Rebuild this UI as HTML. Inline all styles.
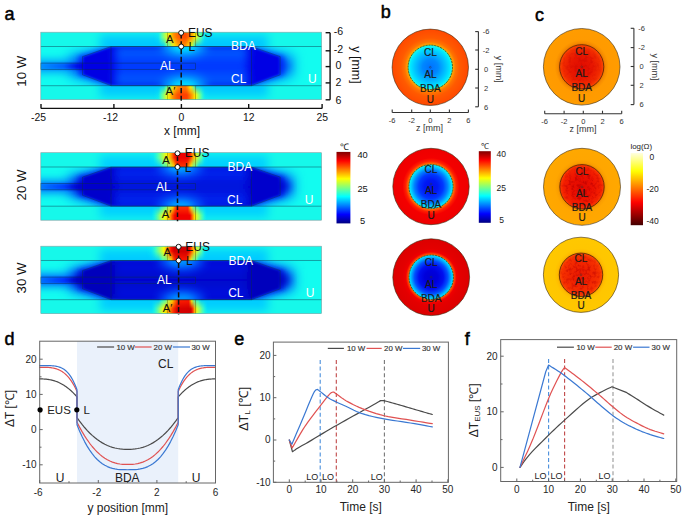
<!DOCTYPE html>
<html><head><meta charset="utf-8"><style>
html,body{margin:0;padding:0;background:#fff;width:685px;height:516px;overflow:hidden}
svg{display:block;font-family:"Liberation Sans",sans-serif}
</style></head><body>
<svg width="685" height="516" viewBox="0 0 685 516"><defs><filter id="bl1" x="-20%" y="-50%" width="140%" height="200%"><feGaussianBlur stdDeviation="1.2"/></filter><filter id="bl3" x="-30%" y="-80%" width="160%" height="260%"><feGaussianBlur stdDeviation="3"/></filter><filter id="bl5" x="-30%" y="-80%" width="160%" height="260%"><feGaussianBlur stdDeviation="5"/></filter><filter id="bl4" x="-30%" y="-80%" width="160%" height="260%"><feGaussianBlur stdDeviation="4"/></filter><filter id="bl9" x="-30%" y="-80%" width="160%" height="260%"><feGaussianBlur stdDeviation="9"/></filter><filter id="bl6" x="-30%" y="-80%" width="160%" height="260%"><feGaussianBlur stdDeviation="6"/></filter><filter id="bl25" x="-30%" y="-80%" width="160%" height="260%"><feGaussianBlur stdDeviation="2.5"/></filter><filter id="bl8" x="-30%" y="-80%" width="160%" height="260%"><feGaussianBlur stdDeviation="8"/></filter><linearGradient id="bmg" gradientUnits="userSpaceOnUse" x1="130" y1="0" x2="230" y2="0"><stop offset="0" stop-color="#000"/><stop offset="0.12" stop-color="#fff"/><stop offset="0.88" stop-color="#fff"/><stop offset="1" stop-color="#000"/></linearGradient><linearGradient id="vgT" x1="0" y1="0" x2="0" y2="1"><stop offset="0" stop-color="#fff"/><stop offset="0.35" stop-color="#fff"/><stop offset="1" stop-color="#000"/></linearGradient><linearGradient id="vgB" x1="0" y1="1" x2="0" y2="0"><stop offset="0" stop-color="#fff"/><stop offset="0.35" stop-color="#fff"/><stop offset="1" stop-color="#000"/></linearGradient><mask id="vmT" maskContentUnits="objectBoundingBox"><rect x="0" y="0" width="1" height="1" fill="url(#vgT)"/></mask><mask id="vmB" maskContentUnits="objectBoundingBox"><rect x="0" y="0" width="1" height="1" fill="url(#vgB)"/></mask><mask id="bm" maskUnits="userSpaceOnUse" x="0" y="-400" width="685" height="1000"><rect x="0" y="-400" width="685" height="1000" fill="url(#bmg)"/></mask><linearGradient id="jetg" x1="0" y1="0" x2="0" y2="1"><stop offset="0.000" stop-color="#800000"/><stop offset="0.025" stop-color="#990000"/><stop offset="0.050" stop-color="#b30000"/><stop offset="0.075" stop-color="#cc0000"/><stop offset="0.100" stop-color="#e50000"/><stop offset="0.125" stop-color="#ff0000"/><stop offset="0.150" stop-color="#ff1a00"/><stop offset="0.175" stop-color="#ff3300"/><stop offset="0.200" stop-color="#ff4c00"/><stop offset="0.225" stop-color="#ff6600"/><stop offset="0.250" stop-color="#ff8000"/><stop offset="0.275" stop-color="#ff9900"/><stop offset="0.300" stop-color="#ffb300"/><stop offset="0.325" stop-color="#ffcc00"/><stop offset="0.350" stop-color="#ffe500"/><stop offset="0.375" stop-color="#ffff00"/><stop offset="0.400" stop-color="#e5ff1a"/><stop offset="0.425" stop-color="#ccff33"/><stop offset="0.450" stop-color="#b3ff4c"/><stop offset="0.475" stop-color="#99ff66"/><stop offset="0.500" stop-color="#80ff80"/><stop offset="0.525" stop-color="#66ff99"/><stop offset="0.550" stop-color="#4cffb3"/><stop offset="0.575" stop-color="#33ffcc"/><stop offset="0.600" stop-color="#1affe5"/><stop offset="0.625" stop-color="#00ffff"/><stop offset="0.650" stop-color="#00e5ff"/><stop offset="0.675" stop-color="#00ccff"/><stop offset="0.700" stop-color="#00b3ff"/><stop offset="0.725" stop-color="#0099ff"/><stop offset="0.750" stop-color="#0080ff"/><stop offset="0.775" stop-color="#0066ff"/><stop offset="0.800" stop-color="#004cff"/><stop offset="0.825" stop-color="#0033ff"/><stop offset="0.850" stop-color="#001aff"/><stop offset="0.875" stop-color="#0000ff"/><stop offset="0.900" stop-color="#0000e5"/><stop offset="0.925" stop-color="#0000cc"/><stop offset="0.950" stop-color="#0000b3"/><stop offset="0.975" stop-color="#000099"/><stop offset="1.000" stop-color="#000080"/></linearGradient><linearGradient id="hotg" x1="0" y1="0" x2="0" y2="1"><stop offset="0.000" stop-color="#ffffe0"/><stop offset="0.025" stop-color="#ffffca"/><stop offset="0.050" stop-color="#ffffb4"/><stop offset="0.075" stop-color="#ffff9e"/><stop offset="0.100" stop-color="#ffff88"/><stop offset="0.125" stop-color="#ffff71"/><stop offset="0.150" stop-color="#ffff5b"/><stop offset="0.175" stop-color="#ffff45"/><stop offset="0.200" stop-color="#ffff2f"/><stop offset="0.225" stop-color="#ffff19"/><stop offset="0.250" stop-color="#ffff03"/><stop offset="0.275" stop-color="#fff200"/><stop offset="0.300" stop-color="#ffe300"/><stop offset="0.325" stop-color="#ffd400"/><stop offset="0.350" stop-color="#ffc600"/><stop offset="0.375" stop-color="#ffb700"/><stop offset="0.400" stop-color="#ffa800"/><stop offset="0.425" stop-color="#ff9900"/><stop offset="0.450" stop-color="#ff8a00"/><stop offset="0.475" stop-color="#ff7c00"/><stop offset="0.500" stop-color="#ff6d00"/><stop offset="0.525" stop-color="#ff5e00"/><stop offset="0.550" stop-color="#ff4f00"/><stop offset="0.575" stop-color="#ff4000"/><stop offset="0.600" stop-color="#ff3200"/><stop offset="0.625" stop-color="#ff2300"/><stop offset="0.650" stop-color="#ff1400"/><stop offset="0.675" stop-color="#ff0500"/><stop offset="0.700" stop-color="#f50000"/><stop offset="0.725" stop-color="#e70000"/><stop offset="0.750" stop-color="#d80000"/><stop offset="0.775" stop-color="#c90000"/><stop offset="0.800" stop-color="#ba0000"/><stop offset="0.825" stop-color="#ac0000"/><stop offset="0.850" stop-color="#9d0000"/><stop offset="0.875" stop-color="#8e0000"/><stop offset="0.900" stop-color="#7f0000"/><stop offset="0.925" stop-color="#700000"/><stop offset="0.950" stop-color="#620000"/><stop offset="0.975" stop-color="#530000"/><stop offset="1.000" stop-color="#440000"/></linearGradient><clipPath id="clipA0"><rect x="40.8" y="0" width="280.8" height="67.5"/></clipPath><clipPath id="clipM0"><rect x="40.8" y="14.3" width="280.8" height="39.2"/></clipPath><clipPath id="clipH0"><polygon points="82.5,24.4 111.0,14.3 251.5,14.3 280.2,24.4 280.2,42.6 251.5,53.5 111.0,53.5 82.5,42.6"/></clipPath><linearGradient id="bg0_0" gradientUnits="objectBoundingBox" x1="0" y1="0" x2="1" y2="0"><stop offset="0.3996" stop-color="#00faff" stop-opacity="0.00"/><stop offset="0.4174" stop-color="#1affe5" stop-opacity="0.21"/><stop offset="0.4281" stop-color="#4dffb2" stop-opacity="0.93"/><stop offset="0.4387" stop-color="#94ff6b" stop-opacity="1.00"/><stop offset="0.4509" stop-color="#e5ff1a" stop-opacity="1.00"/><stop offset="0.4601" stop-color="#ffdb00" stop-opacity="1.00"/><stop offset="0.4708" stop-color="#ff9e00" stop-opacity="1.00"/><stop offset="0.4850" stop-color="#ff6b00" stop-opacity="1.00"/><stop offset="0.4993" stop-color="#ff4c00" stop-opacity="1.00"/><stop offset="0.5171" stop-color="#ff4c00" stop-opacity="1.00"/><stop offset="0.5313" stop-color="#ff8000" stop-opacity="1.00"/><stop offset="0.5420" stop-color="#ffbd00" stop-opacity="1.00"/><stop offset="0.5509" stop-color="#fffa00" stop-opacity="1.00"/><stop offset="0.5598" stop-color="#a8ff57" stop-opacity="1.00"/><stop offset="0.5705" stop-color="#57ffa8" stop-opacity="1.00"/><stop offset="0.5848" stop-color="#1affe5" stop-opacity="0.21"/><stop offset="0.6026" stop-color="#00faff" stop-opacity="0.00"/></linearGradient><linearGradient id="bgi0_0" gradientUnits="objectBoundingBox" x1="0" y1="0" x2="1" y2="0"><stop offset="0.4249" stop-color="#00faff" stop-opacity="0.00"/><stop offset="0.4383" stop-color="#1affe5" stop-opacity="0.21"/><stop offset="0.4463" stop-color="#4dffb2" stop-opacity="0.93"/><stop offset="0.4543" stop-color="#4dffb2" stop-opacity="0.93"/><stop offset="0.4634" stop-color="#9eff61" stop-opacity="1.00"/><stop offset="0.4704" stop-color="#dbff24" stop-opacity="1.00"/><stop offset="0.4784" stop-color="#ffe600" stop-opacity="1.00"/><stop offset="0.4890" stop-color="#ffb300" stop-opacity="1.00"/><stop offset="0.4997" stop-color="#ff9400" stop-opacity="1.00"/><stop offset="0.5131" stop-color="#ff9400" stop-opacity="1.00"/><stop offset="0.5238" stop-color="#ffc700" stop-opacity="1.00"/><stop offset="0.5318" stop-color="#faff05" stop-opacity="1.00"/><stop offset="0.5385" stop-color="#bdff42" stop-opacity="1.00"/><stop offset="0.5451" stop-color="#61ff9e" stop-opacity="1.00"/><stop offset="0.5532" stop-color="#0ffff0" stop-opacity="0.07"/><stop offset="0.5638" stop-color="#1affe5" stop-opacity="0.21"/><stop offset="0.5772" stop-color="#00faff" stop-opacity="0.00"/></linearGradient><linearGradient id="bg0_1" gradientUnits="objectBoundingBox" x1="0" y1="0" x2="1" y2="0"><stop offset="0.3996" stop-color="#00faff" stop-opacity="0.00"/><stop offset="0.4174" stop-color="#1affe5" stop-opacity="0.21"/><stop offset="0.4281" stop-color="#4dffb2" stop-opacity="0.93"/><stop offset="0.4387" stop-color="#94ff6b" stop-opacity="1.00"/><stop offset="0.4509" stop-color="#f0ff0f" stop-opacity="1.00"/><stop offset="0.4601" stop-color="#ffd100" stop-opacity="1.00"/><stop offset="0.4708" stop-color="#ff8a00" stop-opacity="1.00"/><stop offset="0.4850" stop-color="#ff5700" stop-opacity="1.00"/><stop offset="0.4993" stop-color="#ff3d00" stop-opacity="1.00"/><stop offset="0.5207" stop-color="#ff4200" stop-opacity="1.00"/><stop offset="0.5313" stop-color="#ff7500" stop-opacity="1.00"/><stop offset="0.5420" stop-color="#ffb300" stop-opacity="1.00"/><stop offset="0.5509" stop-color="#fffa00" stop-opacity="1.00"/><stop offset="0.5598" stop-color="#a8ff57" stop-opacity="1.00"/><stop offset="0.5705" stop-color="#57ffa8" stop-opacity="1.00"/><stop offset="0.5848" stop-color="#1affe5" stop-opacity="0.21"/><stop offset="0.6026" stop-color="#00faff" stop-opacity="0.00"/></linearGradient><linearGradient id="bgi0_1" gradientUnits="objectBoundingBox" x1="0" y1="0" x2="1" y2="0"><stop offset="0.4249" stop-color="#00faff" stop-opacity="0.00"/><stop offset="0.4383" stop-color="#1affe5" stop-opacity="0.21"/><stop offset="0.4463" stop-color="#4dffb2" stop-opacity="0.93"/><stop offset="0.4543" stop-color="#4dffb2" stop-opacity="0.93"/><stop offset="0.4634" stop-color="#a8ff57" stop-opacity="1.00"/><stop offset="0.4704" stop-color="#e6ff19" stop-opacity="1.00"/><stop offset="0.4784" stop-color="#ffd100" stop-opacity="1.00"/><stop offset="0.4890" stop-color="#ff9e00" stop-opacity="1.00"/><stop offset="0.4997" stop-color="#ff8500" stop-opacity="1.00"/><stop offset="0.5158" stop-color="#ff8a00" stop-opacity="1.00"/><stop offset="0.5238" stop-color="#ffbd00" stop-opacity="1.00"/><stop offset="0.5318" stop-color="#fffa00" stop-opacity="1.00"/><stop offset="0.5385" stop-color="#bdff42" stop-opacity="1.00"/><stop offset="0.5451" stop-color="#61ff9e" stop-opacity="1.00"/><stop offset="0.5532" stop-color="#0ffff0" stop-opacity="0.07"/><stop offset="0.5638" stop-color="#1affe5" stop-opacity="0.21"/><stop offset="0.5772" stop-color="#00faff" stop-opacity="0.00"/></linearGradient><clipPath id="clipA1"><rect x="40.8" y="0" width="280.8" height="67.5"/></clipPath><clipPath id="clipM1"><rect x="40.8" y="14.3" width="280.8" height="39.2"/></clipPath><clipPath id="clipH1"><polygon points="82.5,24.4 111.0,14.3 251.5,14.3 280.2,24.4 280.2,42.6 251.5,53.5 111.0,53.5 82.5,42.6"/></clipPath><linearGradient id="bg1_0" gradientUnits="objectBoundingBox" x1="0" y1="0" x2="1" y2="0"><stop offset="0.3818" stop-color="#00faff" stop-opacity="0.00"/><stop offset="0.3996" stop-color="#1affe5" stop-opacity="0.21"/><stop offset="0.4174" stop-color="#4dffb2" stop-opacity="0.93"/><stop offset="0.4316" stop-color="#9eff61" stop-opacity="1.00"/><stop offset="0.4494" stop-color="#fffa00" stop-opacity="1.00"/><stop offset="0.4637" stop-color="#ff9e00" stop-opacity="1.00"/><stop offset="0.4744" stop-color="#ff2e00" stop-opacity="1.00"/><stop offset="0.4833" stop-color="#f00000" stop-opacity="1.00"/><stop offset="0.5242" stop-color="#f00000" stop-opacity="1.00"/><stop offset="0.5313" stop-color="#ff2400" stop-opacity="1.00"/><stop offset="0.5402" stop-color="#ff8a00" stop-opacity="1.00"/><stop offset="0.5474" stop-color="#ffd100" stop-opacity="1.00"/><stop offset="0.5598" stop-color="#b3ff4c" stop-opacity="1.00"/><stop offset="0.5741" stop-color="#4dffb2" stop-opacity="0.93"/><stop offset="0.5848" stop-color="#1affe5" stop-opacity="0.21"/><stop offset="0.5990" stop-color="#00faff" stop-opacity="0.00"/></linearGradient><linearGradient id="bgi1_0" gradientUnits="objectBoundingBox" x1="0" y1="0" x2="1" y2="0"><stop offset="0.4116" stop-color="#00faff" stop-opacity="0.00"/><stop offset="0.4249" stop-color="#1affe5" stop-opacity="0.21"/><stop offset="0.4383" stop-color="#4dffb2" stop-opacity="0.93"/><stop offset="0.4490" stop-color="#57ffa8" stop-opacity="1.00"/><stop offset="0.4623" stop-color="#bdff42" stop-opacity="1.00"/><stop offset="0.4730" stop-color="#ffe600" stop-opacity="1.00"/><stop offset="0.4810" stop-color="#ff7500" stop-opacity="1.00"/><stop offset="0.4877" stop-color="#ff3800" stop-opacity="1.00"/><stop offset="0.5184" stop-color="#ff3800" stop-opacity="1.00"/><stop offset="0.5238" stop-color="#ff6b00" stop-opacity="1.00"/><stop offset="0.5304" stop-color="#ffd100" stop-opacity="1.00"/><stop offset="0.5358" stop-color="#e6ff19" stop-opacity="1.00"/><stop offset="0.5451" stop-color="#6bff94" stop-opacity="1.00"/><stop offset="0.5558" stop-color="#4dffb2" stop-opacity="0.93"/><stop offset="0.5638" stop-color="#1affe5" stop-opacity="0.21"/><stop offset="0.5745" stop-color="#00faff" stop-opacity="0.00"/></linearGradient><linearGradient id="bg1_1" gradientUnits="objectBoundingBox" x1="0" y1="0" x2="1" y2="0"><stop offset="0.3746" stop-color="#00faff" stop-opacity="0.00"/><stop offset="0.3925" stop-color="#05fffa" stop-opacity="0.00"/><stop offset="0.4067" stop-color="#38ffc7" stop-opacity="0.64"/><stop offset="0.4245" stop-color="#9eff61" stop-opacity="1.00"/><stop offset="0.4423" stop-color="#faff05" stop-opacity="1.00"/><stop offset="0.4601" stop-color="#ff9e00" stop-opacity="1.00"/><stop offset="0.4690" stop-color="#ff4200" stop-opacity="1.00"/><stop offset="0.4779" stop-color="#f00000" stop-opacity="1.00"/><stop offset="0.5313" stop-color="#f00000" stop-opacity="1.00"/><stop offset="0.5402" stop-color="#ff7500" stop-opacity="1.00"/><stop offset="0.5474" stop-color="#ffdb00" stop-opacity="1.00"/><stop offset="0.5563" stop-color="#c7ff38" stop-opacity="1.00"/><stop offset="0.5670" stop-color="#80ff80" stop-opacity="1.00"/><stop offset="0.5776" stop-color="#42ffbd" stop-opacity="0.79"/><stop offset="0.5919" stop-color="#05fffa" stop-opacity="0.00"/></linearGradient><linearGradient id="bgi1_1" gradientUnits="objectBoundingBox" x1="0" y1="0" x2="1" y2="0"><stop offset="0.4062" stop-color="#00faff" stop-opacity="0.00"/><stop offset="0.4196" stop-color="#05fffa" stop-opacity="0.00"/><stop offset="0.4303" stop-color="#38ffc7" stop-opacity="0.64"/><stop offset="0.4436" stop-color="#57ffa8" stop-opacity="1.00"/><stop offset="0.4570" stop-color="#b3ff4c" stop-opacity="1.00"/><stop offset="0.4704" stop-color="#ffe600" stop-opacity="1.00"/><stop offset="0.4770" stop-color="#ff8a00" stop-opacity="1.00"/><stop offset="0.4837" stop-color="#ff3800" stop-opacity="1.00"/><stop offset="0.5238" stop-color="#ff3800" stop-opacity="1.00"/><stop offset="0.5304" stop-color="#ffbd00" stop-opacity="1.00"/><stop offset="0.5358" stop-color="#dbff24" stop-opacity="1.00"/><stop offset="0.5425" stop-color="#7fff80" stop-opacity="1.00"/><stop offset="0.5505" stop-color="#38ffc7" stop-opacity="0.64"/><stop offset="0.5585" stop-color="#42ffbd" stop-opacity="0.79"/><stop offset="0.5692" stop-color="#05fffa" stop-opacity="0.00"/></linearGradient><clipPath id="clipA2"><rect x="40.8" y="0" width="280.8" height="67.5"/></clipPath><clipPath id="clipM2"><rect x="40.8" y="14.3" width="280.8" height="39.2"/></clipPath><clipPath id="clipH2"><polygon points="82.5,24.4 111.0,14.3 251.5,14.3 280.2,24.4 280.2,42.6 251.5,53.5 111.0,53.5 82.5,42.6"/></clipPath><linearGradient id="bg2_0" gradientUnits="objectBoundingBox" x1="0" y1="0" x2="1" y2="0"><stop offset="0.3746" stop-color="#00faff" stop-opacity="0.00"/><stop offset="0.3925" stop-color="#1affe5" stop-opacity="0.21"/><stop offset="0.4103" stop-color="#4dffb2" stop-opacity="0.93"/><stop offset="0.4245" stop-color="#9eff61" stop-opacity="1.00"/><stop offset="0.4387" stop-color="#faff05" stop-opacity="1.00"/><stop offset="0.4530" stop-color="#ff8a00" stop-opacity="1.00"/><stop offset="0.4637" stop-color="#ff0f00" stop-opacity="1.00"/><stop offset="0.4744" stop-color="#d10000" stop-opacity="1.00"/><stop offset="0.5242" stop-color="#d10000" stop-opacity="1.00"/><stop offset="0.5313" stop-color="#ff0f00" stop-opacity="1.00"/><stop offset="0.5385" stop-color="#ff7500" stop-opacity="1.00"/><stop offset="0.5474" stop-color="#ffdb00" stop-opacity="1.00"/><stop offset="0.5598" stop-color="#b3ff4c" stop-opacity="1.00"/><stop offset="0.5741" stop-color="#4dffb2" stop-opacity="0.93"/><stop offset="0.5848" stop-color="#1affe5" stop-opacity="0.21"/><stop offset="0.5990" stop-color="#00faff" stop-opacity="0.00"/></linearGradient><linearGradient id="bgi2_0" gradientUnits="objectBoundingBox" x1="0" y1="0" x2="1" y2="0"><stop offset="0.4062" stop-color="#00faff" stop-opacity="0.00"/><stop offset="0.4196" stop-color="#1affe5" stop-opacity="0.21"/><stop offset="0.4330" stop-color="#4dffb2" stop-opacity="0.93"/><stop offset="0.4436" stop-color="#57ffa8" stop-opacity="1.00"/><stop offset="0.4543" stop-color="#b3ff4c" stop-opacity="1.00"/><stop offset="0.4650" stop-color="#ffd100" stop-opacity="1.00"/><stop offset="0.4730" stop-color="#ff5700" stop-opacity="1.00"/><stop offset="0.4810" stop-color="#ff1900" stop-opacity="1.00"/><stop offset="0.5184" stop-color="#ff1900" stop-opacity="1.00"/><stop offset="0.5238" stop-color="#ff5700" stop-opacity="1.00"/><stop offset="0.5291" stop-color="#ffbd00" stop-opacity="1.00"/><stop offset="0.5358" stop-color="#dbff24" stop-opacity="1.00"/><stop offset="0.5451" stop-color="#6bff94" stop-opacity="1.00"/><stop offset="0.5558" stop-color="#4dffb2" stop-opacity="0.93"/><stop offset="0.5638" stop-color="#1affe5" stop-opacity="0.21"/><stop offset="0.5745" stop-color="#00faff" stop-opacity="0.00"/></linearGradient><linearGradient id="bg2_1" gradientUnits="objectBoundingBox" x1="0" y1="0" x2="1" y2="0"><stop offset="0.3746" stop-color="#00faff" stop-opacity="0.00"/><stop offset="0.3925" stop-color="#05fffa" stop-opacity="0.00"/><stop offset="0.4067" stop-color="#38ffc7" stop-opacity="0.64"/><stop offset="0.4245" stop-color="#9eff61" stop-opacity="1.00"/><stop offset="0.4387" stop-color="#faff05" stop-opacity="1.00"/><stop offset="0.4566" stop-color="#ff9e00" stop-opacity="1.00"/><stop offset="0.4708" stop-color="#ff3800" stop-opacity="1.00"/><stop offset="0.4850" stop-color="#db0000" stop-opacity="1.00"/><stop offset="0.5349" stop-color="#d10000" stop-opacity="1.00"/><stop offset="0.5420" stop-color="#ff3800" stop-opacity="1.00"/><stop offset="0.5491" stop-color="#ffc700" stop-opacity="1.00"/><stop offset="0.5580" stop-color="#c7ff38" stop-opacity="1.00"/><stop offset="0.5687" stop-color="#80ff80" stop-opacity="1.00"/><stop offset="0.5794" stop-color="#42ffbd" stop-opacity="0.79"/><stop offset="0.5954" stop-color="#05fffa" stop-opacity="0.00"/></linearGradient><linearGradient id="bgi2_1" gradientUnits="objectBoundingBox" x1="0" y1="0" x2="1" y2="0"><stop offset="0.4062" stop-color="#00faff" stop-opacity="0.00"/><stop offset="0.4196" stop-color="#05fffa" stop-opacity="0.00"/><stop offset="0.4303" stop-color="#38ffc7" stop-opacity="0.64"/><stop offset="0.4436" stop-color="#57ffa8" stop-opacity="1.00"/><stop offset="0.4543" stop-color="#b3ff4c" stop-opacity="1.00"/><stop offset="0.4677" stop-color="#ffe600" stop-opacity="1.00"/><stop offset="0.4784" stop-color="#ff8000" stop-opacity="1.00"/><stop offset="0.4890" stop-color="#ff2400" stop-opacity="1.00"/><stop offset="0.5264" stop-color="#ff1900" stop-opacity="1.00"/><stop offset="0.5318" stop-color="#ff8000" stop-opacity="1.00"/><stop offset="0.5371" stop-color="#f0ff0f" stop-opacity="1.00"/><stop offset="0.5438" stop-color="#7fff80" stop-opacity="1.00"/><stop offset="0.5518" stop-color="#38ffc7" stop-opacity="0.64"/><stop offset="0.5598" stop-color="#42ffbd" stop-opacity="0.79"/><stop offset="0.5718" stop-color="#05fffa" stop-opacity="0.00"/></linearGradient><linearGradient id="alg0" gradientUnits="userSpaceOnUse" x1="40.8" y1="0" x2="82.5" y2="0"><stop offset="0" stop-color="#0090ff"/><stop offset="0.55" stop-color="#0060ff"/><stop offset="1" stop-color="#0000e4"/></linearGradient><linearGradient id="ceng0" x1="0" y1="0" x2="0" y2="1"><stop offset="0" stop-color="#0068ff"/><stop offset="0.5" stop-color="#0030ff"/><stop offset="1" stop-color="#0068ff"/></linearGradient><linearGradient id="alg1" gradientUnits="userSpaceOnUse" x1="40.8" y1="0" x2="82.5" y2="0"><stop offset="0" stop-color="#0078ff"/><stop offset="0.55" stop-color="#0040ff"/><stop offset="1" stop-color="#0004cc"/></linearGradient><linearGradient id="ceng1" x1="0" y1="0" x2="0" y2="1"><stop offset="0" stop-color="#0030f8"/><stop offset="0.5" stop-color="#000cd8"/><stop offset="1" stop-color="#0030f8"/></linearGradient><linearGradient id="alg2" gradientUnits="userSpaceOnUse" x1="40.8" y1="0" x2="82.5" y2="0"><stop offset="0" stop-color="#0070ff"/><stop offset="0.55" stop-color="#0034ff"/><stop offset="1" stop-color="#0000bc"/></linearGradient><linearGradient id="ceng2" x1="0" y1="0" x2="0" y2="1"><stop offset="0" stop-color="#0018e8"/><stop offset="0.5" stop-color="#0004c8"/><stop offset="1" stop-color="#0018e8"/></linearGradient><filter id="spk" x="0" y="0" width="100%" height="100%"><feTurbulence type="fractalNoise" baseFrequency="0.32" numOctaves="2" seed="5"/><feColorMatrix type="matrix" values="0 0 0 0 0.5  0 0 0 0 0  0 0 0 0 0  0 0 0 -3.2 1.75"/></filter><radialGradient id="bo0" gradientUnits="userSpaceOnUse" cx="430.3" cy="67.3" r="38.2"><stop offset="0.581" stop-color="#ffc400"/><stop offset="0.606" stop-color="#ff9e00"/><stop offset="0.665" stop-color="#ff7400"/><stop offset="0.770" stop-color="#ff5a00"/><stop offset="1.000" stop-color="#ff4800"/></radialGradient><radialGradient id="bi0" gradientUnits="userSpaceOnUse" cx="430.3" cy="67.3" r="22.2"><stop offset="0.000" stop-color="#0070ff"/><stop offset="0.350" stop-color="#0088ff"/><stop offset="0.700" stop-color="#00c4ff"/><stop offset="0.900" stop-color="#00eaff"/><stop offset="1.000" stop-color="#30ffd0"/></radialGradient><radialGradient id="bo1" gradientUnits="userSpaceOnUse" cx="431.0" cy="186.5" r="38.2"><stop offset="0.579" stop-color="#ffa000"/><stop offset="0.608" stop-color="#ff6000"/><stop offset="0.663" stop-color="#ff2000"/><stop offset="0.747" stop-color="#f40000"/><stop offset="1.000" stop-color="#ee0000"/></radialGradient><radialGradient id="bi1" gradientUnits="userSpaceOnUse" cx="431.0" cy="186.5" r="22.1"><stop offset="0.000" stop-color="#0010ec"/><stop offset="0.300" stop-color="#0018f4"/><stop offset="0.550" stop-color="#0038ff"/><stop offset="0.750" stop-color="#0080ff"/><stop offset="0.900" stop-color="#00ccff"/><stop offset="1.000" stop-color="#10f4f4"/></radialGradient><radialGradient id="bo2" gradientUnits="userSpaceOnUse" cx="431.2" cy="277.2" r="38.4"><stop offset="0.578" stop-color="#ff9000"/><stop offset="0.608" stop-color="#ff4000"/><stop offset="0.662" stop-color="#f00000"/><stop offset="0.747" stop-color="#e40000"/><stop offset="1.000" stop-color="#dc0000"/></radialGradient><radialGradient id="bi2" gradientUnits="userSpaceOnUse" cx="431.2" cy="277.2" r="22.2"><stop offset="0.000" stop-color="#0000d0"/><stop offset="0.300" stop-color="#0000dc"/><stop offset="0.550" stop-color="#0010f0"/><stop offset="0.750" stop-color="#0050ff"/><stop offset="0.900" stop-color="#00b0ff"/><stop offset="1.000" stop-color="#00f0ff"/></radialGradient><radialGradient id="co0" gradientUnits="userSpaceOnUse" cx="581.7" cy="66.8" r="38.3"><stop offset="0.577" stop-color="#e87000"/><stop offset="0.628" stop-color="#f68c00"/><stop offset="0.704" stop-color="#ff9a00"/><stop offset="1.000" stop-color="#ff9c00"/></radialGradient><radialGradient id="ci0" gradientUnits="userSpaceOnUse" cx="581.7" cy="66.8" r="22.1"><stop offset="0.000" stop-color="#e00c00"/><stop offset="0.500" stop-color="#e81600"/><stop offset="0.850" stop-color="#f22c00"/><stop offset="1.000" stop-color="#ff4a00"/></radialGradient><clipPath id="ccc0"><circle cx="581.7" cy="66.8" r="21.6"/></clipPath><radialGradient id="spmc0"><stop offset="0" stop-color="#fff"/><stop offset="0.6" stop-color="#fff" stop-opacity="0.7"/><stop offset="1" stop-color="#fff" stop-opacity="0.15"/></radialGradient><mask id="spmaskc0"><circle cx="581.7" cy="66.8" r="22.1" fill="url(#spmc0)"/></mask><radialGradient id="co1" gradientUnits="userSpaceOnUse" cx="582.0" cy="186.8" r="38.5"><stop offset="0.577" stop-color="#ec8400"/><stop offset="0.627" stop-color="#fa9e00"/><stop offset="0.704" stop-color="#ffa600"/><stop offset="1.000" stop-color="#ffa800"/></radialGradient><radialGradient id="ci1" gradientUnits="userSpaceOnUse" cx="582.0" cy="186.8" r="22.2"><stop offset="0.000" stop-color="#e00800"/><stop offset="0.500" stop-color="#ec1000"/><stop offset="0.850" stop-color="#f42000"/><stop offset="1.000" stop-color="#ff4000"/></radialGradient><clipPath id="ccc1"><circle cx="582.0" cy="186.8" r="21.7"/></clipPath><radialGradient id="spmc1"><stop offset="0" stop-color="#fff"/><stop offset="0.6" stop-color="#fff" stop-opacity="0.7"/><stop offset="1" stop-color="#fff" stop-opacity="0.15"/></radialGradient><mask id="spmaskc1"><circle cx="582.0" cy="186.8" r="22.2" fill="url(#spmc1)"/></mask><radialGradient id="co2" gradientUnits="userSpaceOnUse" cx="581.0" cy="274.8" r="37.6"><stop offset="0.577" stop-color="#f0a000"/><stop offset="0.628" stop-color="#ffbc00"/><stop offset="0.704" stop-color="#ffc600"/><stop offset="1.000" stop-color="#ffc800"/></radialGradient><radialGradient id="ci2" gradientUnits="userSpaceOnUse" cx="581.0" cy="274.8" r="21.7"><stop offset="0.000" stop-color="#e81800"/><stop offset="0.500" stop-color="#f02400"/><stop offset="0.850" stop-color="#f63000"/><stop offset="1.000" stop-color="#ff5000"/></radialGradient><clipPath id="ccc2"><circle cx="581.0" cy="274.8" r="21.2"/></clipPath><radialGradient id="spmc2"><stop offset="0" stop-color="#fff"/><stop offset="0.6" stop-color="#fff" stop-opacity="0.7"/><stop offset="1" stop-color="#fff" stop-opacity="0.15"/></radialGradient><mask id="spmaskc2"><circle cx="581.0" cy="274.8" r="21.7" fill="url(#spmc2)"/></mask></defs><g transform="translate(0,32.2)">
<g clip-path="url(#clipA0)">
<rect x="40.8" y="0" width="280.8" height="67.5" fill="#16f8ea"/>
<rect x="100.0" y="3.0" width="168.0" height="61.5" fill="#00c8ff" filter="url(#bl5)" opacity="1"/>
<g clip-path="url(#clipM0)">
<rect x="40.8" y="14.3" width="280.8" height="39.2" fill="#12fcf0"/>
<polygon points="68.5,23.4 105.0,13.3 257.5,13.3 294.2,23.4 294.2,43.6 257.5,54.5 105.0,54.5 68.5,43.6" fill="#0090ff" filter="url(#bl6)"/>
<rect x="30.8" y="27.9" width="55.0" height="12.2" fill="#0090ff" filter="url(#bl4)"/>
<polygon points="78.5,24.4 109.5,14.3 253.0,14.3 284.2,24.4 284.2,42.6 253.0,53.5 109.5,53.5 78.5,42.6" fill="#0040ff" filter="url(#bl25)"/>
<rect x="30.8" y="30.9" width="53.7" height="6.2" fill="url(#alg0)" filter="url(#bl1)"/>
<ellipse cx="83.5" cy="33.5" rx="11" ry="7.5" fill="#0000e4" filter="url(#bl4)" opacity="0.45"/>
<ellipse cx="279.2" cy="33.5" rx="11" ry="7.5" fill="#0000e4" filter="url(#bl4)" opacity="0.45"/>
</g>
<g clip-path="url(#clipH0)">
<polygon points="83.5,24.9 111.5,14.8 251.0,14.8 279.2,24.9 279.2,42.1 251.0,53.0 111.5,53.0 83.5,42.1" fill="#0000e4" filter="url(#bl1)"/>
<rect x="115.0" y="14.3" width="132.5" height="39.2" fill="url(#ceng0)" filter="url(#bl4)"/>
</g>
<g clip-path="url(#clipM0)">
<ellipse cx="184.2" cy="14.3" rx="22" ry="10" fill="#00a8ff" filter="url(#bl5)"/>
<ellipse cx="184.2" cy="53.5" rx="22" ry="10" fill="#00a8ff" filter="url(#bl5)"/>
<ellipse cx="184.2" cy="14.3" rx="12" ry="5" fill="#00e0ff" filter="url(#bl3)"/>
<ellipse cx="184.2" cy="53.5" rx="12" ry="5" fill="#00e0ff" filter="url(#bl3)"/>
</g>
<rect x="40.8" y="0" width="280.8" height="14.3" fill="url(#bgi0_0)"/>
<rect x="40.8" y="0" width="280.8" height="14.3" fill="url(#bg0_0)" mask="url(#vmT)"/>
<rect x="40.8" y="53.5" width="280.8" height="14.0" fill="url(#bgi0_1)"/>
<rect x="40.8" y="53.5" width="280.8" height="14.0" fill="url(#bg0_1)" mask="url(#vmB)"/>
</g>
<line x1="40.8" y1="14.3" x2="321.6" y2="14.3" stroke="#0c2c44" stroke-width="0.65" fill="none" opacity="0.65"/>
<line x1="40.8" y1="53.5" x2="321.6" y2="53.5" stroke="#0c2c44" stroke-width="0.65" fill="none" opacity="0.65"/>
<rect x="40.8" y="30.9" width="154.7" height="6.2" stroke="#0c2c44" stroke-width="0.65" fill="none" opacity="0.65"/>
<polygon points="82.5,24.4 111.0,14.3 251.5,14.3 280.2,24.4 280.2,42.6 251.5,53.5 111.0,53.5 82.5,42.6" stroke="#0c2c44" stroke-width="0.65" fill="none" opacity="0.65"/>
<line x1="111.0" y1="14.3" x2="111.0" y2="53.5" stroke="#0c2c44" stroke-width="0.65" fill="none" opacity="0.65" opacity="0.5"/>
<line x1="251.5" y1="14.3" x2="251.5" y2="53.5" stroke="#0c2c44" stroke-width="0.65" fill="none" opacity="0.65" opacity="0.5"/>
<line x1="167.4" y1="0" x2="167.4" y2="14.3" stroke="#605000" stroke-width="0.6" opacity="0.7"/>
<line x1="167.4" y1="53.5" x2="167.4" y2="67.5" stroke="#605000" stroke-width="0.6" opacity="0.7"/>
<line x1="195.5" y1="0" x2="195.5" y2="14.3" stroke="#605000" stroke-width="0.6" opacity="0.7"/>
<line x1="195.5" y1="53.5" x2="195.5" y2="67.5" stroke="#605000" stroke-width="0.6" opacity="0.7"/>
<rect x="40.8" y="0" width="280.8" height="67.5" stroke="#60a0a0" stroke-width="0.6" fill="none"/>
<line x1="181.2" y1="1.2" x2="181.2" y2="68.5" stroke="#111" stroke-width="1.5" stroke-dasharray="5.20 2.60"/>
<text x="166.0" y="10.6" font-size="11.3" font-family="Liberation Sans, sans-serif" fill="#111">A</text>
<text x="165.6" y="62.9" font-size="11.3" font-family="Liberation Sans, sans-serif" fill="#111">A&#8242;</text>
<text x="160.0" y="37.4" font-size="12.0" font-family="Liberation Sans, sans-serif" fill="#fff">AL</text>
<text x="231.1" y="17.4" font-size="12.0" font-family="Liberation Sans, sans-serif" fill="#fff">BDA</text>
<text x="231.1" y="50.5" font-size="12.0" font-family="Liberation Sans, sans-serif" fill="#fff">CL</text>
<text x="308.1" y="51.1" font-size="12.0" font-family="Liberation Sans, sans-serif" fill="#fff">U</text>
<circle cx="181.2" cy="0.6" r="2.5" fill="#fff" stroke="#000" stroke-width="0.9"/>
<circle cx="181.2" cy="14.3" r="2.5" fill="#fff" stroke="#000" stroke-width="0.9"/>
<text x="187.9" y="4.5" font-size="12" font-family="Liberation Sans, sans-serif" fill="#111">EUS</text>
<text x="188.5" y="18.4" font-size="12" font-family="Liberation Sans, sans-serif" fill="#111">L</text>
</g>
<g transform="translate(0,152.7)">
<g clip-path="url(#clipA1)">
<rect x="40.8" y="0" width="280.8" height="67.5" fill="#16f8ea"/>
<rect x="100.0" y="3.0" width="168.0" height="61.5" fill="#00d0ff" filter="url(#bl5)" opacity="1"/>
<g clip-path="url(#clipM1)">
<rect x="40.8" y="14.3" width="280.8" height="39.2" fill="#12fcf0"/>
<polygon points="68.5,23.4 105.0,13.3 257.5,13.3 294.2,23.4 294.2,43.6 257.5,54.5 105.0,54.5 68.5,43.6" fill="#0070ff" filter="url(#bl6)"/>
<rect x="30.8" y="27.9" width="55.0" height="12.2" fill="#0070ff" filter="url(#bl4)"/>
<polygon points="78.5,24.4 109.5,14.3 253.0,14.3 284.2,24.4 284.2,42.6 253.0,53.5 109.5,53.5 78.5,42.6" fill="#0028f0" filter="url(#bl25)"/>
<rect x="30.8" y="30.9" width="53.7" height="6.2" fill="url(#alg1)" filter="url(#bl1)"/>
<ellipse cx="83.5" cy="33.5" rx="11" ry="7.5" fill="#0004cc" filter="url(#bl4)" opacity="0.90"/>
<ellipse cx="279.2" cy="33.5" rx="11" ry="7.5" fill="#0004cc" filter="url(#bl4)" opacity="0.90"/>
</g>
<g clip-path="url(#clipH1)">
<polygon points="83.5,24.9 111.5,14.8 251.0,14.8 279.2,24.9 279.2,42.1 251.0,53.0 111.5,53.0 83.5,42.1" fill="#0004cc" filter="url(#bl1)"/>
<rect x="115.0" y="14.3" width="132.5" height="39.2" fill="url(#ceng1)" filter="url(#bl4)"/>
</g>
<g clip-path="url(#clipM1)">
<ellipse cx="180.5" cy="14.3" rx="22" ry="10" fill="#0068ff" filter="url(#bl5)"/>
<ellipse cx="180.5" cy="53.5" rx="22" ry="10" fill="#0068ff" filter="url(#bl5)"/>
<ellipse cx="180.5" cy="14.3" rx="12" ry="5" fill="#00a8ff" filter="url(#bl3)"/>
<ellipse cx="180.5" cy="53.5" rx="12" ry="5" fill="#00a8ff" filter="url(#bl3)"/>
</g>
<rect x="40.8" y="0" width="280.8" height="14.3" fill="url(#bgi1_0)"/>
<rect x="40.8" y="0" width="280.8" height="14.3" fill="url(#bg1_0)" mask="url(#vmT)"/>
<rect x="40.8" y="53.5" width="280.8" height="14.0" fill="url(#bgi1_1)"/>
<rect x="40.8" y="53.5" width="280.8" height="14.0" fill="url(#bg1_1)" mask="url(#vmB)"/>
</g>
<line x1="40.8" y1="14.3" x2="321.6" y2="14.3" stroke="#0c2c44" stroke-width="0.65" fill="none" opacity="0.65"/>
<line x1="40.8" y1="53.5" x2="321.6" y2="53.5" stroke="#0c2c44" stroke-width="0.65" fill="none" opacity="0.65"/>
<rect x="40.8" y="30.9" width="154.7" height="6.2" stroke="#0c2c44" stroke-width="0.65" fill="none" opacity="0.65"/>
<polygon points="82.5,24.4 111.0,14.3 251.5,14.3 280.2,24.4 280.2,42.6 251.5,53.5 111.0,53.5 82.5,42.6" stroke="#0c2c44" stroke-width="0.65" fill="none" opacity="0.65"/>
<line x1="111.0" y1="14.3" x2="111.0" y2="53.5" stroke="#0c2c44" stroke-width="0.65" fill="none" opacity="0.65" opacity="0.5"/>
<line x1="251.5" y1="14.3" x2="251.5" y2="53.5" stroke="#0c2c44" stroke-width="0.65" fill="none" opacity="0.65" opacity="0.5"/>
<line x1="167.4" y1="0" x2="167.4" y2="14.3" stroke="#605000" stroke-width="0.6" opacity="0.7"/>
<line x1="167.4" y1="53.5" x2="167.4" y2="67.5" stroke="#605000" stroke-width="0.6" opacity="0.7"/>
<line x1="195.5" y1="0" x2="195.5" y2="14.3" stroke="#605000" stroke-width="0.6" opacity="0.7"/>
<line x1="195.5" y1="53.5" x2="195.5" y2="67.5" stroke="#605000" stroke-width="0.6" opacity="0.7"/>
<rect x="40.8" y="0" width="280.8" height="67.5" stroke="#60a0a0" stroke-width="0.6" fill="none"/>
<line x1="177.5" y1="3.8" x2="177.5" y2="68.5" stroke="#111" stroke-width="1.5" stroke-dasharray="4.60 2.40"/>
<text x="162.3" y="11.1" font-size="11.3" font-family="Liberation Sans, sans-serif" fill="#111">A</text>
<text x="161.8" y="65.2" font-size="11.3" font-family="Liberation Sans, sans-serif" fill="#111">A&#8242;</text>
<text x="156.0" y="38.4" font-size="12.0" font-family="Liberation Sans, sans-serif" fill="#fff">AL</text>
<text x="227.5" y="18.1" font-size="12.0" font-family="Liberation Sans, sans-serif" fill="#fff">BDA</text>
<text x="227.1" y="50.9" font-size="12.0" font-family="Liberation Sans, sans-serif" fill="#fff">CL</text>
<text x="304.7" y="51.0" font-size="12.0" font-family="Liberation Sans, sans-serif" fill="#fff">U</text>
<circle cx="177.5" cy="0.6" r="2.5" fill="#fff" stroke="#000" stroke-width="0.9"/>
<circle cx="177.5" cy="14.3" r="2.5" fill="#fff" stroke="#000" stroke-width="0.9"/>
<text x="184.8" y="4.0" font-size="12" font-family="Liberation Sans, sans-serif" fill="#111">EUS</text>
<text x="184.8" y="19.2" font-size="12" font-family="Liberation Sans, sans-serif" fill="#111">L</text>
</g>
<g transform="translate(0,246.2)">
<g clip-path="url(#clipA2)">
<rect x="40.8" y="0" width="280.8" height="67.5" fill="#16f8ea"/>
<rect x="100.0" y="3.0" width="168.0" height="61.5" fill="#00ccff" filter="url(#bl5)" opacity="1"/>
<g clip-path="url(#clipM2)">
<rect x="40.8" y="14.3" width="280.8" height="39.2" fill="#12fcf0"/>
<polygon points="68.5,23.4 105.0,13.3 257.5,13.3 294.2,23.4 294.2,43.6 257.5,54.5 105.0,54.5 68.5,43.6" fill="#0064ff" filter="url(#bl6)"/>
<rect x="30.8" y="27.9" width="55.0" height="12.2" fill="#0064ff" filter="url(#bl4)"/>
<polygon points="78.5,24.4 109.5,14.3 253.0,14.3 284.2,24.4 284.2,42.6 253.0,53.5 109.5,53.5 78.5,42.6" fill="#0020e8" filter="url(#bl25)"/>
<rect x="30.8" y="30.9" width="53.7" height="6.2" fill="url(#alg2)" filter="url(#bl1)"/>
<ellipse cx="83.5" cy="33.5" rx="11" ry="7.5" fill="#0000bc" filter="url(#bl4)" opacity="0.90"/>
<ellipse cx="279.2" cy="33.5" rx="11" ry="7.5" fill="#0000bc" filter="url(#bl4)" opacity="0.90"/>
</g>
<g clip-path="url(#clipH2)">
<polygon points="83.5,24.9 111.5,14.8 251.0,14.8 279.2,24.9 279.2,42.1 251.0,53.0 111.5,53.0 83.5,42.1" fill="#0000bc" filter="url(#bl1)"/>
<rect x="115.0" y="14.3" width="132.5" height="39.2" fill="url(#ceng2)" filter="url(#bl4)"/>
</g>
<g clip-path="url(#clipM2)">
<ellipse cx="181.6" cy="14.3" rx="22" ry="10" fill="#0060ff" filter="url(#bl5)"/>
<ellipse cx="181.6" cy="53.5" rx="22" ry="10" fill="#0060ff" filter="url(#bl5)"/>
<ellipse cx="181.6" cy="14.3" rx="12" ry="5" fill="#0098ff" filter="url(#bl3)"/>
<ellipse cx="181.6" cy="53.5" rx="12" ry="5" fill="#0098ff" filter="url(#bl3)"/>
</g>
<rect x="40.8" y="0" width="280.8" height="14.3" fill="url(#bgi2_0)"/>
<rect x="40.8" y="0" width="280.8" height="14.3" fill="url(#bg2_0)" mask="url(#vmT)"/>
<rect x="40.8" y="53.5" width="280.8" height="14.0" fill="url(#bgi2_1)"/>
<rect x="40.8" y="53.5" width="280.8" height="14.0" fill="url(#bg2_1)" mask="url(#vmB)"/>
</g>
<line x1="40.8" y1="14.3" x2="321.6" y2="14.3" stroke="#0c2c44" stroke-width="0.65" fill="none" opacity="0.65"/>
<line x1="40.8" y1="53.5" x2="321.6" y2="53.5" stroke="#0c2c44" stroke-width="0.65" fill="none" opacity="0.65"/>
<rect x="40.8" y="30.9" width="154.7" height="6.2" stroke="#0c2c44" stroke-width="0.65" fill="none" opacity="0.65"/>
<polygon points="82.5,24.4 111.0,14.3 251.5,14.3 280.2,24.4 280.2,42.6 251.5,53.5 111.0,53.5 82.5,42.6" stroke="#0c2c44" stroke-width="0.65" fill="none" opacity="0.65"/>
<line x1="111.0" y1="14.3" x2="111.0" y2="53.5" stroke="#0c2c44" stroke-width="0.65" fill="none" opacity="0.65" opacity="0.5"/>
<line x1="251.5" y1="14.3" x2="251.5" y2="53.5" stroke="#0c2c44" stroke-width="0.65" fill="none" opacity="0.65" opacity="0.5"/>
<line x1="167.4" y1="0" x2="167.4" y2="14.3" stroke="#605000" stroke-width="0.6" opacity="0.7"/>
<line x1="167.4" y1="53.5" x2="167.4" y2="67.5" stroke="#605000" stroke-width="0.6" opacity="0.7"/>
<line x1="195.5" y1="0" x2="195.5" y2="14.3" stroke="#605000" stroke-width="0.6" opacity="0.7"/>
<line x1="195.5" y1="53.5" x2="195.5" y2="67.5" stroke="#605000" stroke-width="0.6" opacity="0.7"/>
<rect x="40.8" y="0" width="280.8" height="67.5" stroke="#60a0a0" stroke-width="0.6" fill="none"/>
<line x1="178.6" y1="1.9" x2="178.6" y2="68.5" stroke="#111" stroke-width="1.5" stroke-dasharray="5.20 2.15"/>
<text x="163.6" y="10.2" font-size="11.3" font-family="Liberation Sans, sans-serif" fill="#111">A</text>
<text x="162.7" y="65.7" font-size="11.3" font-family="Liberation Sans, sans-serif" fill="#111">A&#8242;</text>
<text x="157.1" y="38.3" font-size="12.0" font-family="Liberation Sans, sans-serif" fill="#fff">AL</text>
<text x="228.4" y="18.8" font-size="12.0" font-family="Liberation Sans, sans-serif" fill="#fff">BDA</text>
<text x="228.2" y="50.9" font-size="12.0" font-family="Liberation Sans, sans-serif" fill="#fff">CL</text>
<text x="305.8" y="50.9" font-size="12.0" font-family="Liberation Sans, sans-serif" fill="#fff">U</text>
<circle cx="178.6" cy="0.6" r="2.5" fill="#fff" stroke="#000" stroke-width="0.9"/>
<circle cx="178.6" cy="14.3" r="2.5" fill="#fff" stroke="#000" stroke-width="0.9"/>
<text x="185.3" y="4.3" font-size="12" font-family="Liberation Sans, sans-serif" fill="#111">EUS</text>
<text x="185.9" y="19.1" font-size="12" font-family="Liberation Sans, sans-serif" fill="#111">L</text>
</g>
<text transform="translate(26.2,71.2) rotate(-90)" text-anchor="middle" font-size="13.3" font-family="Liberation Sans, sans-serif" fill="#111">10 W</text>
<text transform="translate(26.2,185.0) rotate(-90)" text-anchor="middle" font-size="13.3" font-family="Liberation Sans, sans-serif" fill="#111">20 W</text>
<text transform="translate(26.2,277.9) rotate(-90)" text-anchor="middle" font-size="13.3" font-family="Liberation Sans, sans-serif" fill="#111">30 W</text>
<g stroke="#111" stroke-width="1.4" fill="none"><line x1="41.0" y1="108.4" x2="322.1" y2="108.4"/>
<line x1="41.0" y1="104.0" x2="41.0" y2="108.4"/>
<line x1="113.9" y1="104.0" x2="113.9" y2="108.4"/>
<line x1="181.4" y1="104.0" x2="181.4" y2="108.4"/>
<line x1="248.7" y1="104.0" x2="248.7" y2="108.4"/>
<line x1="322.1" y1="104.0" x2="322.1" y2="108.4"/>
</g>
<text x="38.6" y="120.7" text-anchor="middle" font-size="10.4" font-family="Liberation Sans, sans-serif" fill="#111">-25</text>
<text x="110.5" y="120.7" text-anchor="middle" font-size="10.4" font-family="Liberation Sans, sans-serif" fill="#111">-12</text>
<text x="181.4" y="120.7" text-anchor="middle" font-size="10.4" font-family="Liberation Sans, sans-serif" fill="#111">0</text>
<text x="248.7" y="120.7" text-anchor="middle" font-size="10.4" font-family="Liberation Sans, sans-serif" fill="#111">12</text>
<text x="322.3" y="120.7" text-anchor="middle" font-size="10.4" font-family="Liberation Sans, sans-serif" fill="#111">25</text>
<text x="182" y="135.2" text-anchor="middle" font-size="12" font-family="Liberation Sans, sans-serif" fill="#111">x [mm]</text>
<g stroke="#111" stroke-width="1.4" fill="none"><line x1="330.1" y1="32.7" x2="330.1" y2="99.8"/>
<line x1="325.6" y1="32.7" x2="330.1" y2="32.7"/>
<line x1="325.6" y1="50.8" x2="330.1" y2="50.8"/>
<line x1="325.6" y1="66.6" x2="330.1" y2="66.6"/>
<line x1="325.6" y1="82.9" x2="330.1" y2="82.9"/>
<line x1="325.6" y1="99.8" x2="330.1" y2="99.8"/>
</g>
<text x="338.5" y="35.3" text-anchor="middle" font-size="10.6" font-family="Liberation Sans, sans-serif" fill="#111">-6</text>
<text x="338.5" y="53.0" text-anchor="middle" font-size="10.6" font-family="Liberation Sans, sans-serif" fill="#111">-2</text>
<text x="338.5" y="69.0" text-anchor="middle" font-size="10.6" font-family="Liberation Sans, sans-serif" fill="#111">0</text>
<text x="338.5" y="86.3" text-anchor="middle" font-size="10.6" font-family="Liberation Sans, sans-serif" fill="#111">2</text>
<text x="338.5" y="104.0" text-anchor="middle" font-size="10.6" font-family="Liberation Sans, sans-serif" fill="#111">6</text>
<text transform="translate(351.5,65.0) rotate(90)" text-anchor="middle" font-size="12.5" font-family="Liberation Sans, sans-serif" fill="#111">y [mm]</text>
<rect x="336.5" y="151.9" width="13.9" height="71.5" fill="url(#jetg)"/>
<text x="344" y="150" text-anchor="middle" font-size="9" font-family="Liberation Sans, sans-serif" fill="#111">&#8451;</text>
<text x="357.4" y="158.1" font-size="9.3" font-family="Liberation Sans, sans-serif" fill="#111">40</text>
<text x="357.4" y="191.6" font-size="9.3" font-family="Liberation Sans, sans-serif" fill="#111">25</text>
<text x="360.0" y="224.0" font-size="9.3" font-family="Liberation Sans, sans-serif" fill="#111">5</text>
<circle cx="430.3" cy="67.3" r="38.2" fill="url(#bo0)" stroke="#3a2a10" stroke-width="0.6"/>
<circle cx="430.3" cy="67.3" r="22.2" fill="url(#bi0)" stroke="#202020" stroke-width="0.7" stroke-dasharray="2.2 0.8"/>
<circle cx="430.3" cy="67.3" r="0.9" fill="none" stroke="#333" stroke-width="0.4"/>
<text x="430.4" y="56.2" text-anchor="middle" font-size="10" font-family="Liberation Sans, sans-serif" fill="#1a1a1a" stroke="#1a1a1a" stroke-width="0.2">CL</text>
<text x="430.4" y="78.0" text-anchor="middle" font-size="10" font-family="Liberation Sans, sans-serif" fill="#1a1a1a" stroke="#1a1a1a" stroke-width="0.2">AL</text>
<text x="430.4" y="92.0" text-anchor="middle" font-size="10" font-family="Liberation Sans, sans-serif" fill="#1a1a1a" stroke="#1a1a1a" stroke-width="0.2">BDA</text>
<text x="430.4" y="102.5" text-anchor="middle" font-size="10" font-family="Liberation Sans, sans-serif" fill="#1a1a1a" stroke="#1a1a1a" stroke-width="0.2">U</text>
<circle cx="431.0" cy="186.5" r="38.2" fill="url(#bo1)" stroke="#3a2a10" stroke-width="0.6"/>
<circle cx="431.0" cy="186.5" r="22.1" fill="url(#bi1)" stroke="#202020" stroke-width="0.7" stroke-dasharray="2.2 0.8"/>
<circle cx="431.0" cy="184.0" r="0.9" fill="none" stroke="#333" stroke-width="0.4"/>
<text x="431.0" y="172.8" text-anchor="middle" font-size="10" font-family="Liberation Sans, sans-serif" fill="#1a1a1a" stroke="#1a1a1a" stroke-width="0.2">CL</text>
<text x="431.0" y="194.2" text-anchor="middle" font-size="10" font-family="Liberation Sans, sans-serif" fill="#1a1a1a" stroke="#1a1a1a" stroke-width="0.2">AL</text>
<text x="431.0" y="208.1" text-anchor="middle" font-size="10" font-family="Liberation Sans, sans-serif" fill="#1a1a1a" stroke="#1a1a1a" stroke-width="0.2">BDA</text>
<text x="431.0" y="218.6" text-anchor="middle" font-size="10" font-family="Liberation Sans, sans-serif" fill="#1a1a1a" stroke="#1a1a1a" stroke-width="0.2">U</text>
<circle cx="431.2" cy="277.2" r="38.4" fill="url(#bo2)" stroke="#3a2a10" stroke-width="0.6"/>
<circle cx="431.2" cy="277.2" r="22.2" fill="url(#bi2)" stroke="#202020" stroke-width="0.7" stroke-dasharray="2.2 0.8"/>
<circle cx="431.2" cy="277.2" r="0.9" fill="none" stroke="#333" stroke-width="0.4"/>
<text x="431.2" y="265.9" text-anchor="middle" font-size="10" font-family="Liberation Sans, sans-serif" fill="#1a1a1a" stroke="#1a1a1a" stroke-width="0.2">CL</text>
<text x="431.2" y="287.6" text-anchor="middle" font-size="10" font-family="Liberation Sans, sans-serif" fill="#1a1a1a" stroke="#1a1a1a" stroke-width="0.2">AL</text>
<text x="431.2" y="301.8" text-anchor="middle" font-size="10" font-family="Liberation Sans, sans-serif" fill="#1a1a1a" stroke="#1a1a1a" stroke-width="0.2">BDA</text>
<text x="431.2" y="312.2" text-anchor="middle" font-size="10" font-family="Liberation Sans, sans-serif" fill="#1a1a1a" stroke="#1a1a1a" stroke-width="0.2">U</text>
<circle cx="581.7" cy="66.8" r="38.3" fill="url(#co0)" stroke="#3a2a10" stroke-width="0.6"/>
<circle cx="581.7" cy="66.8" r="22.1" fill="url(#ci0)" stroke="#3a1a08" stroke-width="0.7"/>
<g clip-path="url(#ccc0)" mask="url(#spmaskc0)" opacity="0.35"><rect x="559.6" y="44.7" width="44.2" height="44.2" filter="url(#spk)"/></g>
<circle cx="581.7" cy="66.8" r="0.9" fill="none" stroke="#333" stroke-width="0.4"/>
<text x="581.7" y="55.4" text-anchor="middle" font-size="10" font-family="Liberation Sans, sans-serif" fill="#1a1a1a" stroke="#1a1a1a" stroke-width="0.2">CL</text>
<text x="581.7" y="77.2" text-anchor="middle" font-size="10" font-family="Liberation Sans, sans-serif" fill="#1a1a1a" stroke="#1a1a1a" stroke-width="0.2">AL</text>
<text x="581.7" y="91.2" text-anchor="middle" font-size="10" font-family="Liberation Sans, sans-serif" fill="#1a1a1a" stroke="#1a1a1a" stroke-width="0.2">BDA</text>
<text x="581.7" y="101.9" text-anchor="middle" font-size="10" font-family="Liberation Sans, sans-serif" fill="#1a1a1a" stroke="#1a1a1a" stroke-width="0.2">U</text>
<circle cx="582.0" cy="186.8" r="38.5" fill="url(#co1)" stroke="#3a2a10" stroke-width="0.6"/>
<circle cx="582.0" cy="186.8" r="22.2" fill="url(#ci1)" stroke="#3a1a08" stroke-width="0.7"/>
<g clip-path="url(#ccc1)" mask="url(#spmaskc1)" opacity="0.85"><rect x="559.8" y="164.6" width="44.4" height="44.4" filter="url(#spk)"/></g>
<circle cx="582.0" cy="186.8" r="0.9" fill="none" stroke="#333" stroke-width="0.4"/>
<text x="582.0" y="175.1" text-anchor="middle" font-size="10" font-family="Liberation Sans, sans-serif" fill="#1a1a1a" stroke="#1a1a1a" stroke-width="0.2">CL</text>
<text x="582.0" y="197.1" text-anchor="middle" font-size="10" font-family="Liberation Sans, sans-serif" fill="#1a1a1a" stroke="#1a1a1a" stroke-width="0.2">AL</text>
<text x="582.0" y="211.2" text-anchor="middle" font-size="10" font-family="Liberation Sans, sans-serif" fill="#1a1a1a" stroke="#1a1a1a" stroke-width="0.2">BDA</text>
<text x="582.0" y="221.3" text-anchor="middle" font-size="10" font-family="Liberation Sans, sans-serif" fill="#1a1a1a" stroke="#1a1a1a" stroke-width="0.2">U</text>
<circle cx="581.0" cy="274.8" r="37.6" fill="url(#co2)" stroke="#3a2a10" stroke-width="0.6"/>
<circle cx="581.0" cy="274.8" r="21.7" fill="url(#ci2)" stroke="#3a1a08" stroke-width="0.7"/>
<g clip-path="url(#ccc2)" mask="url(#spmaskc2)" opacity="0.70"><rect x="559.3" y="253.1" width="43.4" height="43.4" filter="url(#spk)"/></g>
<circle cx="581.0" cy="274.8" r="0.9" fill="none" stroke="#333" stroke-width="0.4"/>
<text x="581.0" y="262.4" text-anchor="middle" font-size="10" font-family="Liberation Sans, sans-serif" fill="#1a1a1a" stroke="#1a1a1a" stroke-width="0.2">CL</text>
<text x="581.0" y="284.6" text-anchor="middle" font-size="10" font-family="Liberation Sans, sans-serif" fill="#1a1a1a" stroke="#1a1a1a" stroke-width="0.2">AL</text>
<text x="581.0" y="299.1" text-anchor="middle" font-size="10" font-family="Liberation Sans, sans-serif" fill="#1a1a1a" stroke="#1a1a1a" stroke-width="0.2">BDA</text>
<text x="581.0" y="309.1" text-anchor="middle" font-size="10" font-family="Liberation Sans, sans-serif" fill="#1a1a1a" stroke="#1a1a1a" stroke-width="0.2">U</text>
<g stroke="#333" stroke-width="1.1" fill="none">
<line x1="392.2" y1="112.5" x2="468.4" y2="112.5"/>
<line x1="392.2" y1="109.5" x2="392.2" y2="112.5"/>
<line x1="411.7" y1="109.5" x2="411.7" y2="112.5"/>
<line x1="430.3" y1="109.5" x2="430.3" y2="112.5"/>
<line x1="449.4" y1="109.5" x2="449.4" y2="112.5"/>
<line x1="468.4" y1="109.5" x2="468.4" y2="112.5"/>
<line x1="478.4" y1="31.6" x2="478.4" y2="106.8"/>
<line x1="475.2" y1="31.6" x2="478.4" y2="31.6"/>
<line x1="475.2" y1="50.0" x2="478.4" y2="50.0"/>
<line x1="475.2" y1="69.3" x2="478.4" y2="69.3"/>
<line x1="475.2" y1="88.0" x2="478.4" y2="88.0"/>
<line x1="475.2" y1="106.8" x2="478.4" y2="106.8"/>
</g>
<text x="392.2" y="122.7" text-anchor="middle" font-size="7.5" font-family="Liberation Sans, sans-serif" fill="#333">-6</text>
<text x="411.7" y="122.7" text-anchor="middle" font-size="7.5" font-family="Liberation Sans, sans-serif" fill="#333">-2</text>
<text x="430.3" y="122.7" text-anchor="middle" font-size="7.5" font-family="Liberation Sans, sans-serif" fill="#333">0</text>
<text x="449.4" y="122.7" text-anchor="middle" font-size="7.5" font-family="Liberation Sans, sans-serif" fill="#333">2</text>
<text x="468.4" y="122.7" text-anchor="middle" font-size="7.5" font-family="Liberation Sans, sans-serif" fill="#333">6</text>
<text x="486.0" y="34.3" text-anchor="middle" font-size="7.5" font-family="Liberation Sans, sans-serif" fill="#333">-6</text>
<text x="486.0" y="52.7" text-anchor="middle" font-size="7.5" font-family="Liberation Sans, sans-serif" fill="#333">-2</text>
<text x="486.0" y="72.0" text-anchor="middle" font-size="7.5" font-family="Liberation Sans, sans-serif" fill="#333">0</text>
<text x="486.0" y="90.7" text-anchor="middle" font-size="7.5" font-family="Liberation Sans, sans-serif" fill="#333">2</text>
<text x="486.0" y="109.5" text-anchor="middle" font-size="7.5" font-family="Liberation Sans, sans-serif" fill="#333">6</text>
<text x="429.5" y="130.6" text-anchor="middle" font-size="9" font-family="Liberation Sans, sans-serif" fill="#333">z [mm]</text>
<text transform="translate(496.2,69.2) rotate(90)" text-anchor="middle" font-size="9" font-family="Liberation Sans, sans-serif" fill="#333">y [mm]</text>
<g stroke="#333" stroke-width="1.1" fill="none">
<line x1="544.7" y1="113.7" x2="621.7" y2="113.7"/>
<line x1="544.7" y1="110.7" x2="544.7" y2="113.7"/>
<line x1="564.1" y1="110.7" x2="564.1" y2="113.7"/>
<line x1="583.3" y1="110.7" x2="583.3" y2="113.7"/>
<line x1="602.5" y1="110.7" x2="602.5" y2="113.7"/>
<line x1="621.7" y1="110.7" x2="621.7" y2="113.7"/>
<line x1="633.9" y1="28.3" x2="633.9" y2="104.6"/>
<line x1="630.7" y1="28.3" x2="633.9" y2="28.3"/>
<line x1="630.7" y1="47.6" x2="633.9" y2="47.6"/>
<line x1="630.7" y1="66.5" x2="633.9" y2="66.5"/>
<line x1="630.7" y1="85.3" x2="633.9" y2="85.3"/>
<line x1="630.7" y1="104.6" x2="633.9" y2="104.6"/>
</g>
<text x="544.7" y="123.9" text-anchor="middle" font-size="7.5" font-family="Liberation Sans, sans-serif" fill="#333">-6</text>
<text x="564.1" y="123.9" text-anchor="middle" font-size="7.5" font-family="Liberation Sans, sans-serif" fill="#333">-2</text>
<text x="583.3" y="123.9" text-anchor="middle" font-size="7.5" font-family="Liberation Sans, sans-serif" fill="#333">0</text>
<text x="602.5" y="123.9" text-anchor="middle" font-size="7.5" font-family="Liberation Sans, sans-serif" fill="#333">2</text>
<text x="621.7" y="123.9" text-anchor="middle" font-size="7.5" font-family="Liberation Sans, sans-serif" fill="#333">6</text>
<text x="641.7" y="31.0" text-anchor="middle" font-size="7.5" font-family="Liberation Sans, sans-serif" fill="#333">-6</text>
<text x="641.7" y="50.3" text-anchor="middle" font-size="7.5" font-family="Liberation Sans, sans-serif" fill="#333">-2</text>
<text x="641.7" y="69.2" text-anchor="middle" font-size="7.5" font-family="Liberation Sans, sans-serif" fill="#333">0</text>
<text x="641.7" y="88.0" text-anchor="middle" font-size="7.5" font-family="Liberation Sans, sans-serif" fill="#333">2</text>
<text x="641.7" y="107.3" text-anchor="middle" font-size="7.5" font-family="Liberation Sans, sans-serif" fill="#333">6</text>
<text x="583.0" y="131.8" text-anchor="middle" font-size="9" font-family="Liberation Sans, sans-serif" fill="#333">z [mm]</text>
<text transform="translate(651.6,66.9) rotate(90)" text-anchor="middle" font-size="9" font-family="Liberation Sans, sans-serif" fill="#333">y [mm]</text>
<rect x="478.8" y="151.2" width="12" height="71.6" fill="url(#jetg)"/>
<text x="485" y="148.6" text-anchor="middle" font-size="8" font-family="Liberation Sans, sans-serif" fill="#222">&#8451;</text>
<text x="496.5" y="157.0" font-size="8.5" font-family="Liberation Sans, sans-serif" fill="#222">40</text>
<text x="496.5" y="191.4" font-size="8.5" font-family="Liberation Sans, sans-serif" fill="#222">25</text>
<text x="499.2" y="223.3" font-size="8.5" font-family="Liberation Sans, sans-serif" fill="#222">5</text>
<rect x="630.7" y="153" width="12.3" height="72.2" fill="url(#hotg)"/>
<text x="641.3" y="149" text-anchor="middle" font-size="7.9" font-family="Liberation Sans, sans-serif" fill="#222">log(&#937;)</text>
<text x="649.5" y="159.7" font-size="8.5" font-family="Liberation Sans, sans-serif" fill="#222">0</text>
<text x="646.5" y="192.0" font-size="8.5" font-family="Liberation Sans, sans-serif" fill="#222">-20</text>
<text x="646.5" y="224.2" font-size="8.5" font-family="Liberation Sans, sans-serif" fill="#222">-40</text>
<rect x="77.0" y="341.2" width="101.2" height="141.8" fill="#eaf1fb"/>
<path d="M39.70,378.91 L40.63,378.91 L41.57,378.93 L42.50,378.95 L43.43,378.98 L44.36,379.03 L45.30,379.10 L46.23,379.19 L47.16,379.29 L48.09,379.41 L49.03,379.56 L49.96,379.72 L50.89,379.91 L51.82,380.12 L52.75,380.36 L53.69,380.62 L54.62,380.90 L55.55,381.21 L56.49,381.55 L57.42,381.92 L58.35,382.31 L59.28,382.74 L60.22,383.19 L61.15,383.67 L62.08,384.18 L63.01,384.72 L63.95,385.30 L64.88,385.90 L65.81,386.54 L66.74,387.21 L67.67,387.91 L68.61,388.65 L69.54,389.42 L70.47,390.23 L71.41,391.07 L72.34,391.94 L73.27,392.85 L74.20,393.80 L75.13,394.78 L76.07,395.81 L77.00,396.86 L77.00,417.63 L79.53,421.16 L82.06,424.45 L84.59,427.51 L87.12,430.35 L89.65,432.97 L92.18,435.36 L94.71,437.55 L97.24,439.53 L99.77,441.30 L102.30,442.88 L104.83,444.26 L107.36,445.46 L109.89,446.48 L112.42,447.33 L114.95,448.01 L117.48,448.53 L120.01,448.91 L122.54,449.15 L125.07,449.28 L127.60,449.31 L130.13,449.28 L132.66,449.15 L135.19,448.91 L137.72,448.53 L140.25,448.01 L142.78,447.33 L145.31,446.48 L147.84,445.46 L150.37,444.26 L152.90,442.88 L155.43,441.30 L157.96,439.53 L160.49,437.55 L163.02,435.36 L165.55,432.97 L168.08,430.35 L170.61,427.51 L173.14,424.45 L175.67,421.16 L178.20,417.63 L178.20,396.86 L179.13,395.81 L180.07,394.78 L181.00,393.80 L181.93,392.85 L182.86,391.94 L183.80,391.07 L184.73,390.23 L185.66,389.42 L186.59,388.65 L187.53,387.91 L188.46,387.21 L189.39,386.54 L190.32,385.90 L191.25,385.30 L192.19,384.72 L193.12,384.18 L194.05,383.67 L194.99,383.19 L195.92,382.74 L196.85,382.31 L197.78,381.92 L198.72,381.55 L199.65,381.21 L200.58,380.90 L201.51,380.62 L202.44,380.36 L203.38,380.12 L204.31,379.91 L205.24,379.72 L206.18,379.56 L207.11,379.41 L208.04,379.29 L208.97,379.19 L209.91,379.10 L210.84,379.03 L211.77,378.98 L212.70,378.95 L213.64,378.93 L214.57,378.91 L215.50,378.91" fill="none" stroke="#4a4a4a" stroke-width="1.20" stroke-linejoin="round" stroke-linecap="round"/>
<path d="M39.70,367.30 L40.63,367.30 L41.57,367.30 L42.50,367.30 L43.43,367.31 L44.36,367.32 L45.30,367.33 L46.23,367.36 L47.16,367.40 L48.09,367.45 L49.03,367.51 L49.96,367.60 L50.89,367.70 L51.82,367.82 L52.75,367.98 L53.69,368.15 L54.62,368.37 L55.55,368.61 L56.49,368.89 L57.42,369.21 L58.35,369.58 L59.28,369.99 L60.22,370.45 L61.15,370.97 L62.08,371.54 L63.01,372.17 L63.95,372.87 L64.88,373.63 L65.81,374.47 L66.74,375.38 L67.67,376.36 L68.61,377.43 L69.54,378.59 L70.47,379.83 L71.41,381.17 L72.34,382.61 L73.27,384.15 L74.20,385.79 L75.13,387.55 L76.07,389.42 L77.00,391.41 L77.00,422.21 L79.53,427.10 L82.06,431.65 L84.59,435.85 L87.12,439.72 L89.65,443.27 L92.18,446.50 L94.71,449.43 L97.24,452.05 L99.77,454.39 L102.30,456.45 L104.83,458.23 L107.36,459.76 L109.89,461.05 L112.42,462.10 L114.95,462.93 L117.48,463.56 L120.01,464.00 L122.54,464.28 L125.07,464.42 L127.60,464.45 L130.13,464.42 L132.66,464.28 L135.19,464.00 L137.72,463.56 L140.25,462.93 L142.78,462.10 L145.31,461.05 L147.84,459.76 L150.37,458.23 L152.90,456.45 L155.43,454.39 L157.96,452.05 L160.49,449.43 L163.02,446.50 L165.55,443.27 L168.08,439.72 L170.61,435.85 L173.14,431.65 L175.67,427.10 L178.20,422.21 L178.20,391.41 L179.13,389.42 L180.07,387.55 L181.00,385.79 L181.93,384.15 L182.86,382.61 L183.80,381.17 L184.73,379.83 L185.66,378.59 L186.59,377.43 L187.53,376.36 L188.46,375.38 L189.39,374.47 L190.32,373.63 L191.25,372.87 L192.19,372.17 L193.12,371.54 L194.05,370.97 L194.99,370.45 L195.92,369.99 L196.85,369.58 L197.78,369.21 L198.72,368.89 L199.65,368.61 L200.58,368.37 L201.51,368.15 L202.44,367.98 L203.38,367.82 L204.31,367.70 L205.24,367.60 L206.18,367.51 L207.11,367.45 L208.04,367.40 L208.97,367.36 L209.91,367.33 L210.84,367.32 L211.77,367.31 L212.70,367.30 L213.64,367.30 L214.57,367.30 L215.50,367.30" fill="none" stroke="#e05252" stroke-width="1.20" stroke-linejoin="round" stroke-linecap="round"/>
<path d="M39.70,365.54 L40.63,365.54 L41.57,365.54 L42.50,365.54 L43.43,365.54 L44.36,365.54 L45.30,365.54 L46.23,365.55 L47.16,365.56 L48.09,365.58 L49.03,365.60 L49.96,365.63 L50.89,365.67 L51.82,365.73 L52.75,365.80 L53.69,365.89 L54.62,366.01 L55.55,366.15 L56.49,366.32 L57.42,366.52 L58.35,366.77 L59.28,367.06 L60.22,367.39 L61.15,367.78 L62.08,368.24 L63.01,368.75 L63.95,369.35 L64.88,370.02 L65.81,370.78 L66.74,371.63 L67.67,372.59 L68.61,373.65 L69.54,374.84 L70.47,376.16 L71.41,377.61 L72.34,379.21 L73.27,380.98 L74.20,382.91 L75.13,385.02 L76.07,387.32 L77.00,389.82 L77.00,424.67 L79.53,430.90 L82.06,436.53 L84.59,441.60 L87.12,446.14 L89.65,450.17 L92.18,453.71 L94.71,456.81 L97.24,459.49 L99.77,461.77 L102.30,463.69 L104.83,465.28 L107.36,466.57 L109.89,467.58 L112.42,468.36 L114.95,468.92 L117.48,469.30 L120.01,469.54 L122.54,469.67 L125.07,469.72 L127.60,469.73 L130.13,469.72 L132.66,469.67 L135.19,469.54 L137.72,469.30 L140.25,468.92 L142.78,468.36 L145.31,467.58 L147.84,466.57 L150.37,465.28 L152.90,463.69 L155.43,461.77 L157.96,459.49 L160.49,456.81 L163.02,453.71 L165.55,450.17 L168.08,446.14 L170.61,441.60 L173.14,436.53 L175.67,430.90 L178.20,424.67 L178.20,389.82 L179.13,387.32 L180.07,385.02 L181.00,382.91 L181.93,380.98 L182.86,379.21 L183.80,377.61 L184.73,376.16 L185.66,374.84 L186.59,373.65 L187.53,372.59 L188.46,371.63 L189.39,370.78 L190.32,370.02 L191.25,369.35 L192.19,368.75 L193.12,368.24 L194.05,367.78 L194.99,367.39 L195.92,367.06 L196.85,366.77 L197.78,366.52 L198.72,366.32 L199.65,366.15 L200.58,366.01 L201.51,365.89 L202.44,365.80 L203.38,365.73 L204.31,365.67 L205.24,365.63 L206.18,365.60 L207.11,365.58 L208.04,365.56 L208.97,365.55 L209.91,365.54 L210.84,365.54 L211.77,365.54 L212.70,365.54 L213.64,365.54 L214.57,365.54 L215.50,365.54" fill="none" stroke="#3a78d2" stroke-width="1.20" stroke-linejoin="round" stroke-linecap="round"/>
<rect x="39.7" y="341.2" width="175.8" height="141.8" fill="none" stroke="#666" stroke-width="1"/>
<g stroke="#666" stroke-width="1">
<line x1="39.7" y1="464.8" x2="42.7" y2="464.8"/>
<line x1="39.7" y1="429.6" x2="42.7" y2="429.6"/>
<line x1="39.7" y1="394.4" x2="42.7" y2="394.4"/>
<line x1="39.7" y1="359.2" x2="42.7" y2="359.2"/>
<line x1="39.7" y1="447.2" x2="41.5" y2="447.2"/>
<line x1="39.7" y1="412.0" x2="41.5" y2="412.0"/>
<line x1="39.7" y1="376.8" x2="41.5" y2="376.8"/>
<line x1="39.7" y1="483.0" x2="39.7" y2="480.0"/>
<line x1="98.3" y1="483.0" x2="98.3" y2="480.0"/>
<line x1="156.9" y1="483.0" x2="156.9" y2="480.0"/>
<line x1="215.5" y1="483.0" x2="215.5" y2="480.0"/>
<line x1="69.0" y1="483.0" x2="69.0" y2="481.2"/>
<line x1="127.6" y1="483.0" x2="127.6" y2="481.2"/>
<line x1="186.2" y1="483.0" x2="186.2" y2="481.2"/>
</g>
<text x="36.6" y="468.2" text-anchor="end" font-size="10" font-family="Liberation Sans, sans-serif" fill="#262626">-10</text>
<text x="36.6" y="433.0" text-anchor="end" font-size="10" font-family="Liberation Sans, sans-serif" fill="#262626">0</text>
<text x="36.6" y="397.8" text-anchor="end" font-size="10" font-family="Liberation Sans, sans-serif" fill="#262626">10</text>
<text x="36.6" y="362.6" text-anchor="end" font-size="10" font-family="Liberation Sans, sans-serif" fill="#262626">20</text>
<text x="38.2" y="495.6" text-anchor="middle" font-size="10" font-family="Liberation Sans, sans-serif" fill="#262626">-6</text>
<text x="96.8" y="495.6" text-anchor="middle" font-size="10" font-family="Liberation Sans, sans-serif" fill="#262626">-2</text>
<text x="156.9" y="495.6" text-anchor="middle" font-size="10" font-family="Liberation Sans, sans-serif" fill="#262626">2</text>
<text x="215.5" y="495.6" text-anchor="middle" font-size="10" font-family="Liberation Sans, sans-serif" fill="#262626">6</text>
<text x="127.8" y="511.6" text-anchor="middle" font-size="12" font-family="Liberation Sans, sans-serif" fill="#222">y position [mm]</text>
<text transform="translate(14.4,408.4) rotate(-90)" text-anchor="middle" font-size="12" font-family="Liberation Sans, sans-serif" fill="#222">&#916;T [&#8451;]</text>
<line x1="97.1" y1="347.0" x2="114.1" y2="347.0" stroke="#4a4a4a" stroke-width="1.2"/>
<text x="116.4" y="349.9" font-size="7.9" font-family="Liberation Sans, sans-serif" fill="#333" stroke="#333" stroke-width="0.15">10 W</text>
<line x1="134.8" y1="347.0" x2="151.6" y2="347.0" stroke="#e05252" stroke-width="1.2"/>
<text x="153.6" y="349.9" font-size="7.9" font-family="Liberation Sans, sans-serif" fill="#333" stroke="#333" stroke-width="0.15">20 W</text>
<line x1="172.9" y1="347.0" x2="190.0" y2="347.0" stroke="#3a78d2" stroke-width="1.2"/>
<text x="191.4" y="349.9" font-size="7.9" font-family="Liberation Sans, sans-serif" fill="#333" stroke="#333" stroke-width="0.15">30 W</text>
<text x="158" y="368.2" font-size="12" font-family="Liberation Sans, sans-serif" fill="#222">CL</text>
<text x="127.3" y="481.6" text-anchor="middle" font-size="12" font-family="Liberation Sans, sans-serif" fill="#222">BDA</text>
<text x="60.2" y="481.6" text-anchor="middle" font-size="12" font-family="Liberation Sans, sans-serif" fill="#222">U</text>
<text x="196.1" y="481.6" text-anchor="middle" font-size="12" font-family="Liberation Sans, sans-serif" fill="#222">U</text>
<circle cx="40.1" cy="409.8" r="2.6" fill="#000"/>
<circle cx="76.8" cy="409.8" r="2.6" fill="#000"/>
<text x="47.2" y="413.9" font-size="11.5" font-family="Liberation Sans, sans-serif" fill="#222">EUS</text>
<text x="83.6" y="413.9" font-size="11.5" font-family="Liberation Sans, sans-serif" fill="#222">L</text>
<line x1="320.2" y1="360" x2="320.2" y2="482.3" stroke="#4a8fdc" stroke-width="1.1" stroke-dasharray="4 2.6"/>
<line x1="336.3" y1="360" x2="336.3" y2="482.3" stroke="#c04848" stroke-width="1.1" stroke-dasharray="4 2.6"/>
<line x1="384.4" y1="360" x2="384.4" y2="482.3" stroke="#777" stroke-width="1.1" stroke-dasharray="4 2.6"/>
<path d="M289.30,440.00 L292.47,451.72 L292.47,451.72 L293.12,451.26 L294.00,450.63 L295.05,449.89 L296.23,449.07 L297.50,448.23 L298.81,447.40 L300.07,446.67 L301.29,446.00 L302.59,445.31 L304.12,444.49 L305.98,443.46 L308.32,442.12 L311.24,440.38 L314.67,438.31 L318.44,436.02 L322.40,433.63 L326.37,431.25 L330.19,429.00 L333.95,426.84 L337.78,424.66 L341.62,422.50 L345.43,420.37 L349.14,418.30 L352.70,416.31 L356.19,414.36 L359.67,412.43 L363.06,410.55 L366.26,408.78 L369.18,407.16 L371.72,405.74 L373.89,404.51 L375.76,403.44 L377.35,402.52 L378.67,401.74 L379.75,401.11 L380.60,400.62 L380.60,400.62 L380.95,400.62 L381.36,400.58 L381.88,400.56 L382.58,400.58 L383.51,400.69 L384.72,400.91 L386.29,401.29 L388.19,401.78 L390.32,402.36 L392.58,402.99 L394.87,403.63 L397.08,404.26 L399.26,404.87 L401.49,405.51 L403.76,406.17 L406.01,406.83 L408.24,407.48 L410.39,408.11 L412.50,408.72 L414.59,409.34 L416.63,409.95 L418.64,410.54 L420.58,411.11 L422.44,411.66 L424.32,412.21 L426.24,412.76 L428.11,413.30 L429.80,413.78 L431.22,414.19 L432.27,414.49" fill="none" stroke="#4a4a4a" stroke-width="1.20" stroke-linejoin="round" stroke-linecap="round"/>
<path d="M289.30,440.00 L292.15,448.04 L292.15,448.04 L293.53,445.63 L295.42,442.30 L297.66,438.36 L300.12,434.12 L302.67,429.91 L305.15,426.04 L307.71,422.35 L310.48,418.55 L313.33,414.78 L316.13,411.16 L318.73,407.82 L321.00,404.89 L322.94,402.37 L324.66,400.14 L326.19,398.19 L327.55,396.51 L328.77,395.08 L329.88,393.89 L330.85,393.03 L331.66,392.51 L332.33,392.25 L332.88,392.15 L333.32,392.09 L333.68,391.99 L333.68,391.99 L334.04,392.25 L334.48,392.58 L335.03,392.98 L335.70,393.47 L336.51,394.05 L337.48,394.74 L338.59,395.55 L339.81,396.49 L341.17,397.52 L342.70,398.62 L344.42,399.76 L346.36,400.91 L348.53,402.12 L350.90,403.39 L353.47,404.71 L356.22,406.03 L359.14,407.35 L362.21,408.61 L365.46,409.86 L368.89,411.13 L372.49,412.37 L376.24,413.57 L380.11,414.70 L384.08,415.72 L388.26,416.62 L392.69,417.42 L397.24,418.14 L401.79,418.81 L406.21,419.46 L410.39,420.12 L414.55,420.81 L418.82,421.51 L422.97,422.19 L426.76,422.81 L429.94,423.33 L432.27,423.71" fill="none" stroke="#e05252" stroke-width="1.20" stroke-linejoin="round" stroke-linecap="round"/>
<path d="M289.30,440.00 L291.84,444.23 L291.84,444.23 L292.92,441.69 L294.42,438.21 L296.19,434.08 L298.13,429.57 L300.10,424.96 L301.98,420.54 L303.89,415.96 L305.96,410.92 L308.06,405.78 L310.08,400.91 L311.90,396.69 L313.39,393.47 L314.55,391.41 L315.46,390.26 L316.17,389.75 L316.71,389.61 L317.15,389.58 L317.51,389.41 L317.51,389.41 L317.91,389.72 L318.42,390.13 L319.04,390.62 L319.78,391.20 L320.64,391.87 L321.63,392.62 L322.72,393.49 L323.88,394.46 L325.16,395.53 L326.61,396.65 L328.27,397.81 L330.19,398.97 L332.45,400.16 L335.03,401.40 L337.82,402.68 L340.71,403.97 L343.60,405.25 L346.36,406.50 L348.95,407.74 L351.44,408.99 L353.93,410.24 L356.49,411.45 L359.22,412.61 L362.21,413.69 L365.46,414.68 L368.89,415.61 L372.49,416.48 L376.24,417.31 L380.11,418.11 L384.08,418.89 L388.26,419.64 L392.69,420.35 L397.24,421.03 L401.79,421.68 L406.21,422.34 L410.39,423.00 L414.55,423.70 L418.82,424.45 L422.97,425.20 L426.76,425.89 L429.94,426.47 L432.27,426.89" fill="none" stroke="#3a78d2" stroke-width="1.20" stroke-linejoin="round" stroke-linecap="round"/>
<rect x="273.4" y="342.1" width="175.0" height="140.2" fill="none" stroke="#666" stroke-width="1"/>
<g stroke="#666" stroke-width="1">
<line x1="273.4" y1="482.3" x2="276.4" y2="482.3"/>
<line x1="273.4" y1="440.0" x2="276.4" y2="440.0"/>
<line x1="273.4" y1="397.7" x2="276.4" y2="397.7"/>
<line x1="273.4" y1="355.4" x2="276.4" y2="355.4"/>
<line x1="273.4" y1="461.1" x2="275.2" y2="461.1"/>
<line x1="273.4" y1="418.9" x2="275.2" y2="418.9"/>
<line x1="273.4" y1="376.6" x2="275.2" y2="376.6"/>
<line x1="289.3" y1="482.3" x2="289.3" y2="479.3"/>
<line x1="321.0" y1="482.3" x2="321.0" y2="479.3"/>
<line x1="352.7" y1="482.3" x2="352.7" y2="479.3"/>
<line x1="384.4" y1="482.3" x2="384.4" y2="479.3"/>
<line x1="416.1" y1="482.3" x2="416.1" y2="479.3"/>
<line x1="447.8" y1="482.3" x2="447.8" y2="479.3"/>
<line x1="305.2" y1="482.3" x2="305.2" y2="480.5"/>
<line x1="336.9" y1="482.3" x2="336.9" y2="480.5"/>
<line x1="368.6" y1="482.3" x2="368.6" y2="480.5"/>
<line x1="400.2" y1="482.3" x2="400.2" y2="480.5"/>
<line x1="432.0" y1="482.3" x2="432.0" y2="480.5"/>
</g>
<text x="270.6" y="485.7" text-anchor="end" font-size="10" font-family="Liberation Sans, sans-serif" fill="#262626">-10</text>
<text x="270.6" y="443.4" text-anchor="end" font-size="10" font-family="Liberation Sans, sans-serif" fill="#262626">0</text>
<text x="270.6" y="401.1" text-anchor="end" font-size="10" font-family="Liberation Sans, sans-serif" fill="#262626">10</text>
<text x="270.6" y="358.8" text-anchor="end" font-size="10" font-family="Liberation Sans, sans-serif" fill="#262626">20</text>
<text x="289.3" y="493.3" text-anchor="middle" font-size="10" font-family="Liberation Sans, sans-serif" fill="#262626">0</text>
<text x="321.0" y="493.3" text-anchor="middle" font-size="10" font-family="Liberation Sans, sans-serif" fill="#262626">10</text>
<text x="352.7" y="493.3" text-anchor="middle" font-size="10" font-family="Liberation Sans, sans-serif" fill="#262626">20</text>
<text x="384.4" y="493.3" text-anchor="middle" font-size="10" font-family="Liberation Sans, sans-serif" fill="#262626">30</text>
<text x="416.1" y="493.3" text-anchor="middle" font-size="10" font-family="Liberation Sans, sans-serif" fill="#262626">40</text>
<text x="447.8" y="493.3" text-anchor="middle" font-size="10" font-family="Liberation Sans, sans-serif" fill="#262626">50</text>
<text x="360.8" y="510.8" text-anchor="middle" font-size="12" font-family="Liberation Sans, sans-serif" fill="#222">Time [s]</text>
<text transform="translate(247.9,408.8) rotate(-90)" text-anchor="middle" font-size="12.6" font-family="Liberation Sans, sans-serif" fill="#222">&#916;T<tspan font-size="8" dy="2.5">L</tspan><tspan dy="-2.5"> [&#8451;]</tspan></text>
<line x1="327.8" y1="348.4" x2="343.9" y2="348.4" stroke="#4a4a4a" stroke-width="1.2"/>
<text x="346.9" y="351.3" font-size="7.9" font-family="Liberation Sans, sans-serif" fill="#333" stroke="#333" stroke-width="0.15">10 W</text>
<line x1="366.5" y1="348.4" x2="381.7" y2="348.4" stroke="#e05252" stroke-width="1.2"/>
<text x="384.0" y="351.3" font-size="7.9" font-family="Liberation Sans, sans-serif" fill="#333" stroke="#333" stroke-width="0.15">20 W</text>
<line x1="403.0" y1="348.4" x2="420.2" y2="348.4" stroke="#3a78d2" stroke-width="1.2"/>
<text x="421.9" y="351.3" font-size="7.9" font-family="Liberation Sans, sans-serif" fill="#333" stroke="#333" stroke-width="0.15">30 W</text>
<text x="306.3" y="480.3" font-size="9" font-family="Liberation Sans, sans-serif" fill="#222">LO</text>
<text x="322.0" y="480.3" font-size="9" font-family="Liberation Sans, sans-serif" fill="#222">LO</text>
<text x="370.8" y="480.3" font-size="9" font-family="Liberation Sans, sans-serif" fill="#222">LO</text>
<line x1="548.6" y1="359" x2="548.6" y2="481.5" stroke="#4a8fdc" stroke-width="1.1" stroke-dasharray="4 2.6"/>
<line x1="564.6" y1="359" x2="564.6" y2="481.5" stroke="#c04848" stroke-width="1.1" stroke-dasharray="4 2.6"/>
<line x1="613.0" y1="359" x2="613.0" y2="481.5" stroke="#999" stroke-width="1.1" stroke-dasharray="4 2.6"/>
<path d="M519.98,467.40 L520.91,466.09 L522.10,464.33 L523.56,462.22 L525.28,459.84 L527.27,457.28 L529.52,454.61 L532.18,451.70 L535.29,448.45 L538.66,445.02 L542.12,441.56 L545.49,438.22 L548.60,435.15 L551.37,432.44 L553.92,429.96 L556.39,427.61 L558.89,425.27 L561.56,422.82 L564.50,420.14 L567.87,417.09 L571.59,413.74 L575.47,410.27 L579.32,406.90 L582.93,403.82 L586.12,401.24 L588.84,399.21 L591.22,397.59 L593.38,396.27 L595.40,395.12 L597.40,394.04 L599.48,392.90 L601.75,391.68 L604.14,390.47 L606.52,389.32 L608.70,388.28 L610.54,387.42 L611.88,386.78 L611.88,386.78 L626.19,392.34 L626.19,392.34 L627.55,393.19 L629.43,394.37 L631.66,395.76 L634.05,397.26 L636.42,398.75 L638.59,400.12 L640.57,401.39 L642.50,402.65 L644.42,403.89 L646.34,405.14 L648.31,406.38 L650.36,407.63 L652.65,408.97 L655.19,410.41 L657.77,411.85 L660.19,413.19 L662.24,414.32 L663.72,415.14" fill="none" stroke="#4a4a4a" stroke-width="1.20" stroke-linejoin="round" stroke-linecap="round"/>
<path d="M519.98,467.40 L521.33,464.53 L523.16,460.69 L525.35,456.07 L527.75,450.88 L530.25,445.33 L532.70,439.60 L535.22,433.31 L537.94,426.21 L540.75,418.75 L543.54,411.35 L546.19,404.44 L548.60,398.46 L550.80,393.35 L552.90,388.77 L554.86,384.68 L556.67,381.06 L558.30,377.87 L559.73,375.10 L560.95,372.85 L561.97,371.15 L562.81,369.89 L563.50,368.96 L564.05,368.23 L564.50,367.60 L564.50,367.60 L565.51,368.33 L566.88,369.31 L568.51,370.48 L570.32,371.79 L572.19,373.16 L574.04,374.55 L575.89,375.96 L577.83,377.45 L579.84,379.01 L581.91,380.63 L584.01,382.30 L586.12,384.00 L588.28,385.76 L590.51,387.58 L592.76,389.46 L595.03,391.35 L597.28,393.25 L599.48,395.12 L601.64,396.99 L603.77,398.87 L605.88,400.75 L607.98,402.62 L610.09,404.45 L612.20,406.24 L614.31,408.00 L616.40,409.74 L618.50,411.45 L620.61,413.12 L622.74,414.72 L624.92,416.25 L627.17,417.70 L629.48,419.09 L631.82,420.42 L634.14,421.68 L636.41,422.89 L638.59,424.03 L640.65,425.10 L642.60,426.10 L644.50,427.03 L646.39,427.92 L648.33,428.77 L650.36,429.59 L652.65,430.42 L655.19,431.26 L657.77,432.05 L660.19,432.77 L662.24,433.37 L663.72,433.82" fill="none" stroke="#e05252" stroke-width="1.20" stroke-linejoin="round" stroke-linecap="round"/>
<path d="M519.98,467.40 L545.74,371.77 L548.60,365.10 L548.60,365.10 L549.83,365.86 L551.53,366.89 L553.55,368.12 L555.74,369.48 L557.95,370.91 L560.05,372.32 L562.05,373.75 L564.06,375.25 L566.11,376.81 L568.19,378.42 L570.30,380.08 L572.45,381.78 L574.66,383.53 L576.93,385.34 L579.23,387.20 L581.54,389.09 L583.85,390.99 L586.12,392.90 L588.38,394.82 L590.62,396.79 L592.86,398.77 L595.09,400.74 L597.29,402.68 L599.48,404.57 L601.64,406.42 L603.77,408.26 L605.88,410.06 L607.98,411.82 L610.09,413.52 L612.20,415.14 L614.31,416.67 L616.40,418.14 L618.50,419.55 L620.61,420.90 L622.74,422.21 L624.92,423.48 L627.17,424.71 L629.48,425.91 L631.82,427.06 L634.14,428.15 L636.41,429.18 L638.59,430.15 L640.65,431.02 L642.60,431.82 L644.50,432.55 L646.39,433.24 L648.33,433.91 L650.36,434.60 L652.65,435.32 L655.19,436.08 L657.77,436.82 L660.19,437.50 L662.24,438.07 L663.72,438.49" fill="none" stroke="#3a78d2" stroke-width="1.20" stroke-linejoin="round" stroke-linecap="round"/>
<rect x="500.7" y="339.6" width="176.0" height="141.9" fill="none" stroke="#666" stroke-width="1"/>
<g stroke="#666" stroke-width="1">
<line x1="500.7" y1="467.4" x2="503.7" y2="467.4"/>
<line x1="500.7" y1="411.8" x2="503.7" y2="411.8"/>
<line x1="500.7" y1="356.2" x2="503.7" y2="356.2"/>
<line x1="500.7" y1="439.6" x2="502.5" y2="439.6"/>
<line x1="500.7" y1="384.0" x2="502.5" y2="384.0"/>
<line x1="516.8" y1="481.5" x2="516.8" y2="478.5"/>
<line x1="548.6" y1="481.5" x2="548.6" y2="478.5"/>
<line x1="580.4" y1="481.5" x2="580.4" y2="478.5"/>
<line x1="612.2" y1="481.5" x2="612.2" y2="478.5"/>
<line x1="644.0" y1="481.5" x2="644.0" y2="478.5"/>
<line x1="675.8" y1="481.5" x2="675.8" y2="478.5"/>
<line x1="532.7" y1="481.5" x2="532.7" y2="479.7"/>
<line x1="564.5" y1="481.5" x2="564.5" y2="479.7"/>
<line x1="596.3" y1="481.5" x2="596.3" y2="479.7"/>
<line x1="628.1" y1="481.5" x2="628.1" y2="479.7"/>
<line x1="659.9" y1="481.5" x2="659.9" y2="479.7"/>
</g>
<text x="497.6" y="470.8" text-anchor="end" font-size="10" font-family="Liberation Sans, sans-serif" fill="#262626">0</text>
<text x="497.6" y="415.2" text-anchor="end" font-size="10" font-family="Liberation Sans, sans-serif" fill="#262626">10</text>
<text x="497.6" y="359.6" text-anchor="end" font-size="10" font-family="Liberation Sans, sans-serif" fill="#262626">20</text>
<text x="516.8" y="492.5" text-anchor="middle" font-size="10" font-family="Liberation Sans, sans-serif" fill="#262626">0</text>
<text x="548.6" y="492.5" text-anchor="middle" font-size="10" font-family="Liberation Sans, sans-serif" fill="#262626">10</text>
<text x="580.4" y="492.5" text-anchor="middle" font-size="10" font-family="Liberation Sans, sans-serif" fill="#262626">20</text>
<text x="612.2" y="492.5" text-anchor="middle" font-size="10" font-family="Liberation Sans, sans-serif" fill="#262626">30</text>
<text x="644.0" y="492.5" text-anchor="middle" font-size="10" font-family="Liberation Sans, sans-serif" fill="#262626">40</text>
<text x="675.8" y="492.5" text-anchor="middle" font-size="10" font-family="Liberation Sans, sans-serif" fill="#262626">50</text>
<text x="588.8" y="510.8" text-anchor="middle" font-size="12" font-family="Liberation Sans, sans-serif" fill="#222">Time [s]</text>
<text transform="translate(477.8,410.3) rotate(-90)" text-anchor="middle" font-size="12" font-family="Liberation Sans, sans-serif" fill="#222">&#916;T<tspan font-size="8" dy="2.5">EUS</tspan><tspan dy="-2.5"> [&#8451;]</tspan></text>
<line x1="557.0" y1="347.2" x2="573.9" y2="347.2" stroke="#4a4a4a" stroke-width="1.2"/>
<text x="576.4" y="350.1" font-size="7.9" font-family="Liberation Sans, sans-serif" fill="#333" stroke="#333" stroke-width="0.15">10 W</text>
<line x1="595.3" y1="347.2" x2="611.7" y2="347.2" stroke="#e05252" stroke-width="1.2"/>
<text x="613.7" y="350.1" font-size="7.9" font-family="Liberation Sans, sans-serif" fill="#333" stroke="#333" stroke-width="0.15">20 W</text>
<line x1="633.1" y1="347.2" x2="649.5" y2="347.2" stroke="#3a78d2" stroke-width="1.2"/>
<text x="651.5" y="350.1" font-size="7.9" font-family="Liberation Sans, sans-serif" fill="#333" stroke="#333" stroke-width="0.15">30 W</text>
<text x="534.4" y="479.0" font-size="9" font-family="Liberation Sans, sans-serif" fill="#222">LO</text>
<text x="550.5" y="479.0" font-size="9" font-family="Liberation Sans, sans-serif" fill="#222">LO</text>
<text x="598.5" y="479.0" font-size="9" font-family="Liberation Sans, sans-serif" fill="#222">LO</text>
<text x="4.5" y="20.0" font-size="18" stroke="#000" stroke-width="0.5" font-family="Liberation Sans, sans-serif" fill="#000">a</text>
<text x="380.8" y="18.2" font-size="18" stroke="#000" stroke-width="0.5" font-family="Liberation Sans, sans-serif" fill="#000">b</text>
<text x="535.0" y="20.9" font-size="18" stroke="#000" stroke-width="0.5" font-family="Liberation Sans, sans-serif" fill="#000">c</text>
<text x="4.5" y="344.7" font-size="18" stroke="#000" stroke-width="0.5" font-family="Liberation Sans, sans-serif" fill="#000">d</text>
<text x="234.3" y="344.9" font-size="18" stroke="#000" stroke-width="0.5" font-family="Liberation Sans, sans-serif" fill="#000">e</text>
<text x="464.8" y="344.5" font-size="18" stroke="#000" stroke-width="0.5" font-family="Liberation Sans, sans-serif" fill="#000">f</text></svg>
</body></html>
